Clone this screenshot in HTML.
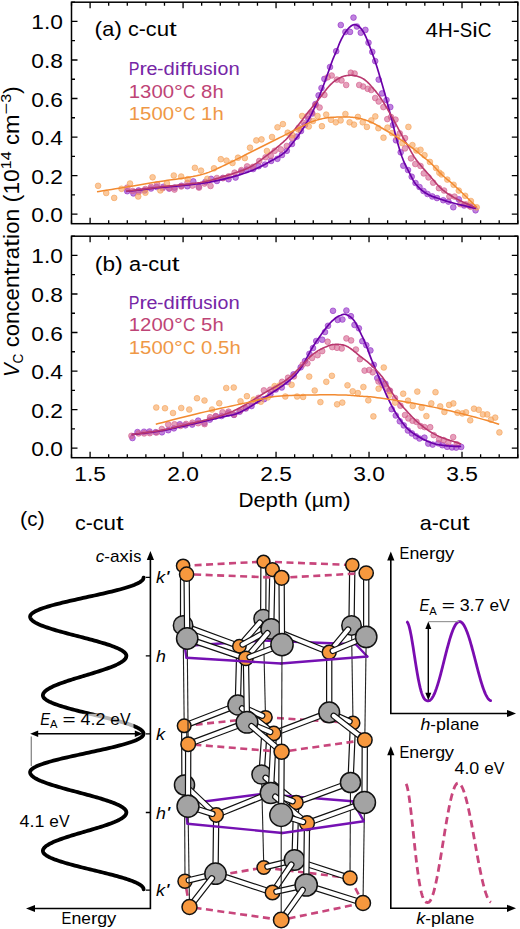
<!DOCTYPE html><html><head><meta charset="utf-8"><style>html,body{margin:0;padding:0;background:#fff;}svg{display:block;}text{font-family:"Liberation Sans",sans-serif;}</style></head><body><svg width="520" height="929" viewBox="0 0 520 929" font-family="Liberation Sans, sans-serif">
<rect width="520" height="929" fill="#fff"/>
<path d="M71.50,223.70V220.20M71.50,2.20V5.70M90.10,223.70V217.70M90.10,2.20V8.20M108.69,223.70V220.20M108.69,2.20V5.70M127.29,223.70V220.20M127.29,2.20V5.70M145.88,223.70V220.20M145.88,2.20V5.70M164.48,223.70V220.20M164.48,2.20V5.70M183.08,223.70V217.70M183.08,2.20V8.20M201.67,223.70V220.20M201.67,2.20V5.70M220.27,223.70V220.20M220.27,2.20V5.70M238.86,223.70V220.20M238.86,2.20V5.70M257.46,223.70V220.20M257.46,2.20V5.70M276.05,223.70V217.70M276.05,2.20V8.20M294.65,223.70V220.20M294.65,2.20V5.70M313.25,223.70V220.20M313.25,2.20V5.70M331.84,223.70V220.20M331.84,2.20V5.70M350.44,223.70V220.20M350.44,2.20V5.70M369.03,223.70V217.70M369.03,2.20V8.20M387.63,223.70V220.20M387.63,2.20V5.70M406.23,223.70V220.20M406.23,2.20V5.70M424.82,223.70V220.20M424.82,2.20V5.70M443.42,223.70V220.20M443.42,2.20V5.70M462.01,223.70V217.70M462.01,2.20V8.20M480.61,223.70V220.20M480.61,2.20V5.70M499.20,223.70V220.20M499.20,2.20V5.70M517.80,223.70V220.20M517.80,2.20V5.70M71.50,214.07H77.50M517.80,214.07H511.80M71.50,194.81H75.00M517.80,194.81H514.30M71.50,175.55H77.50M517.80,175.55H511.80M71.50,156.29H75.00M517.80,156.29H514.30M71.50,137.03H77.50M517.80,137.03H511.80M71.50,117.77H75.00M517.80,117.77H514.30M71.50,98.50H77.50M517.80,98.50H511.80M71.50,79.24H75.00M517.80,79.24H514.30M71.50,59.98H77.50M517.80,59.98H511.80M71.50,40.72H75.00M517.80,40.72H514.30M71.50,21.46H77.50M517.80,21.46H511.80M71.50,2.20H75.00M517.80,2.20H514.30" stroke="#000" stroke-width="1.3" fill="none"/>
<rect x="71.50" y="2.20" width="446.30" height="221.50" stroke="#000" stroke-width="1.5" fill="none"/>
<g font-size="21.09" fill="#000"><text x="31.36" y="222.07" textLength="12.66" lengthAdjust="spacingAndGlyphs">0</text><text x="44.02" y="222.07" textLength="6.33" lengthAdjust="spacingAndGlyphs">.</text><text x="50.35" y="222.07" textLength="12.66" lengthAdjust="spacingAndGlyphs">0</text></g>
<g font-size="21.09" fill="#000"><text x="31.36" y="183.55" textLength="12.66" lengthAdjust="spacingAndGlyphs">0</text><text x="44.02" y="183.55" textLength="6.33" lengthAdjust="spacingAndGlyphs">.</text><text x="50.35" y="183.55" textLength="12.66" lengthAdjust="spacingAndGlyphs">2</text></g>
<g font-size="21.09" fill="#000"><text x="31.36" y="145.03" textLength="12.66" lengthAdjust="spacingAndGlyphs">0</text><text x="44.02" y="145.03" textLength="6.33" lengthAdjust="spacingAndGlyphs">.</text><text x="50.35" y="145.03" textLength="12.66" lengthAdjust="spacingAndGlyphs">4</text></g>
<g font-size="21.09" fill="#000"><text x="31.36" y="106.50" textLength="12.66" lengthAdjust="spacingAndGlyphs">0</text><text x="44.02" y="106.50" textLength="6.33" lengthAdjust="spacingAndGlyphs">.</text><text x="50.35" y="106.50" textLength="12.66" lengthAdjust="spacingAndGlyphs">6</text></g>
<g font-size="21.09" fill="#000"><text x="31.36" y="67.98" textLength="12.66" lengthAdjust="spacingAndGlyphs">0</text><text x="44.02" y="67.98" textLength="6.33" lengthAdjust="spacingAndGlyphs">.</text><text x="50.35" y="67.98" textLength="12.66" lengthAdjust="spacingAndGlyphs">8</text></g>
<g font-size="21.09" fill="#000"><text x="31.36" y="29.46" textLength="12.66" lengthAdjust="spacingAndGlyphs">1</text><text x="44.02" y="29.46" textLength="6.33" lengthAdjust="spacingAndGlyphs">.</text><text x="50.35" y="29.46" textLength="12.66" lengthAdjust="spacingAndGlyphs">0</text></g>
<path d="M71.50,457.70V454.20M71.50,236.20V239.70M90.10,457.70V451.70M90.10,236.20V242.20M108.69,457.70V454.20M108.69,236.20V239.70M127.29,457.70V454.20M127.29,236.20V239.70M145.88,457.70V454.20M145.88,236.20V239.70M164.48,457.70V454.20M164.48,236.20V239.70M183.08,457.70V451.70M183.08,236.20V242.20M201.67,457.70V454.20M201.67,236.20V239.70M220.27,457.70V454.20M220.27,236.20V239.70M238.86,457.70V454.20M238.86,236.20V239.70M257.46,457.70V454.20M257.46,236.20V239.70M276.05,457.70V451.70M276.05,236.20V242.20M294.65,457.70V454.20M294.65,236.20V239.70M313.25,457.70V454.20M313.25,236.20V239.70M331.84,457.70V454.20M331.84,236.20V239.70M350.44,457.70V454.20M350.44,236.20V239.70M369.03,457.70V451.70M369.03,236.20V242.20M387.63,457.70V454.20M387.63,236.20V239.70M406.23,457.70V454.20M406.23,236.20V239.70M424.82,457.70V454.20M424.82,236.20V239.70M443.42,457.70V454.20M443.42,236.20V239.70M462.01,457.70V451.70M462.01,236.20V242.20M480.61,457.70V454.20M480.61,236.20V239.70M499.20,457.70V454.20M499.20,236.20V239.70M517.80,457.70V454.20M517.80,236.20V239.70M71.50,448.07H77.50M517.80,448.07H511.80M71.50,428.81H75.00M517.80,428.81H514.30M71.50,409.55H77.50M517.80,409.55H511.80M71.50,390.29H75.00M517.80,390.29H514.30M71.50,371.03H77.50M517.80,371.03H511.80M71.50,351.77H75.00M517.80,351.77H514.30M71.50,332.50H77.50M517.80,332.50H511.80M71.50,313.24H75.00M517.80,313.24H514.30M71.50,293.98H77.50M517.80,293.98H511.80M71.50,274.72H75.00M517.80,274.72H514.30M71.50,255.46H77.50M517.80,255.46H511.80M71.50,236.20H75.00M517.80,236.20H514.30" stroke="#000" stroke-width="1.3" fill="none"/>
<rect x="71.50" y="236.20" width="446.30" height="221.50" stroke="#000" stroke-width="1.5" fill="none"/>
<g font-size="21.09" fill="#000"><text x="31.36" y="456.07" textLength="12.66" lengthAdjust="spacingAndGlyphs">0</text><text x="44.02" y="456.07" textLength="6.33" lengthAdjust="spacingAndGlyphs">.</text><text x="50.35" y="456.07" textLength="12.66" lengthAdjust="spacingAndGlyphs">0</text></g>
<g font-size="21.09" fill="#000"><text x="31.36" y="417.55" textLength="12.66" lengthAdjust="spacingAndGlyphs">0</text><text x="44.02" y="417.55" textLength="6.33" lengthAdjust="spacingAndGlyphs">.</text><text x="50.35" y="417.55" textLength="12.66" lengthAdjust="spacingAndGlyphs">2</text></g>
<g font-size="21.09" fill="#000"><text x="31.36" y="379.03" textLength="12.66" lengthAdjust="spacingAndGlyphs">0</text><text x="44.02" y="379.03" textLength="6.33" lengthAdjust="spacingAndGlyphs">.</text><text x="50.35" y="379.03" textLength="12.66" lengthAdjust="spacingAndGlyphs">4</text></g>
<g font-size="21.09" fill="#000"><text x="31.36" y="340.50" textLength="12.66" lengthAdjust="spacingAndGlyphs">0</text><text x="44.02" y="340.50" textLength="6.33" lengthAdjust="spacingAndGlyphs">.</text><text x="50.35" y="340.50" textLength="12.66" lengthAdjust="spacingAndGlyphs">6</text></g>
<g font-size="21.09" fill="#000"><text x="31.36" y="301.98" textLength="12.66" lengthAdjust="spacingAndGlyphs">0</text><text x="44.02" y="301.98" textLength="6.33" lengthAdjust="spacingAndGlyphs">.</text><text x="50.35" y="301.98" textLength="12.66" lengthAdjust="spacingAndGlyphs">8</text></g>
<g font-size="21.09" fill="#000"><text x="31.36" y="263.46" textLength="12.66" lengthAdjust="spacingAndGlyphs">1</text><text x="44.02" y="263.46" textLength="6.33" lengthAdjust="spacingAndGlyphs">.</text><text x="50.35" y="263.46" textLength="12.66" lengthAdjust="spacingAndGlyphs">0</text></g>
<g fill="#9430c8" fill-opacity="0.6" stroke="#9430c8" stroke-opacity="0.7" stroke-width="0.9"><circle cx="127.22" cy="191.21" r="2.85"/><circle cx="133.42" cy="193.39" r="2.85"/><circle cx="138.58" cy="190.47" r="2.85"/><circle cx="144.67" cy="190.47" r="2.85"/><circle cx="151.04" cy="188.49" r="2.85"/><circle cx="156.66" cy="186.98" r="2.85"/><circle cx="163.41" cy="186.76" r="2.85"/><circle cx="169.13" cy="188.55" r="2.85"/><circle cx="174.58" cy="187.60" r="2.85"/><circle cx="181.45" cy="185.75" r="2.85"/><circle cx="187.39" cy="186.24" r="2.85"/><circle cx="193.29" cy="181.40" r="2.85"/><circle cx="198.71" cy="186.76" r="2.85"/><circle cx="205.42" cy="181.88" r="2.85"/><circle cx="211.08" cy="178.87" r="2.85"/><circle cx="216.92" cy="180.93" r="2.85"/><circle cx="222.78" cy="178.03" r="2.85"/><circle cx="228.54" cy="179.23" r="2.85"/><circle cx="235.58" cy="177.54" r="2.85"/><circle cx="241.23" cy="171.48" r="2.85"/><circle cx="246.56" cy="169.58" r="2.85"/><circle cx="253.21" cy="169.07" r="2.85"/><circle cx="258.64" cy="166.25" r="2.85"/><circle cx="265.03" cy="164.58" r="2.85"/><circle cx="271.13" cy="160.92" r="2.85"/></g>
<g fill="#9430c8" fill-opacity="0.6" stroke="#9430c8" stroke-opacity="0.7" stroke-width="0.9"><circle cx="432.28" cy="196.47" r="2.85"/><circle cx="436.99" cy="198.07" r="2.85"/><circle cx="443.26" cy="200.24" r="2.85"/><circle cx="448.42" cy="201.60" r="2.85"/><circle cx="453.29" cy="207.27" r="2.85"/><circle cx="458.81" cy="199.32" r="2.85"/><circle cx="464.12" cy="205.45" r="2.85"/><circle cx="469.47" cy="205.78" r="2.85"/><circle cx="475.56" cy="210.31" r="2.85"/></g>
<g fill="#9430c8" fill-opacity="0.6" stroke="#9430c8" stroke-opacity="0.7" stroke-width="0.9"><circle cx="277.40" cy="158.80" r="2.85"/><circle cx="282.00" cy="155.00" r="2.85"/><circle cx="286.80" cy="150.80" r="2.85"/><circle cx="292.00" cy="144.00" r="2.85"/><circle cx="296.80" cy="136.60" r="2.85"/><circle cx="301.00" cy="131.00" r="2.85"/><circle cx="305.00" cy="125.00" r="2.85"/><circle cx="308.50" cy="119.00" r="2.85"/><circle cx="312.30" cy="113.50" r="2.85"/><circle cx="315.50" cy="104.00" r="2.85"/><circle cx="318.60" cy="95.40" r="2.85"/><circle cx="321.50" cy="88.00" r="2.85"/><circle cx="324.40" cy="78.90" r="2.85"/><circle cx="330.00" cy="67.00" r="2.85"/><circle cx="336.20" cy="51.20" r="2.85"/><circle cx="340.80" cy="25.00" r="2.85"/><circle cx="345.40" cy="31.90" r="2.85"/><circle cx="350.00" cy="31.90" r="2.85"/><circle cx="353.50" cy="17.60" r="2.85"/><circle cx="356.90" cy="26.50" r="2.85"/><circle cx="360.80" cy="32.70" r="2.85"/><circle cx="365.40" cy="29.90" r="2.85"/><circle cx="368.50" cy="42.70" r="2.85"/><circle cx="372.30" cy="51.90" r="2.85"/><circle cx="375.20" cy="61.10" r="2.85"/><circle cx="378.70" cy="79.60" r="2.85"/><circle cx="382.10" cy="93.40" r="2.85"/><circle cx="386.50" cy="100.00" r="2.85"/><circle cx="390.30" cy="107.10" r="2.85"/><circle cx="393.00" cy="125.00" r="2.85"/><circle cx="396.00" cy="140.30" r="2.85"/><circle cx="400.70" cy="152.30" r="2.85"/><circle cx="403.30" cy="165.70" r="2.85"/><circle cx="408.00" cy="170.00" r="2.85"/><circle cx="411.70" cy="176.70" r="2.85"/><circle cx="415.50" cy="183.00" r="2.85"/><circle cx="419.50" cy="187.00" r="2.85"/><circle cx="423.50" cy="191.00" r="2.85"/><circle cx="427.50" cy="194.00" r="2.85"/></g>
<g fill="#d4608e" fill-opacity="0.6" stroke="#d4608e" stroke-opacity="0.7" stroke-width="0.9"><circle cx="127.20" cy="187.61" r="2.85"/><circle cx="132.57" cy="190.88" r="2.85"/><circle cx="138.73" cy="191.89" r="2.85"/><circle cx="145.37" cy="188.98" r="2.85"/><circle cx="151.07" cy="186.90" r="2.85"/><circle cx="157.19" cy="184.33" r="2.85"/><circle cx="162.59" cy="188.24" r="2.85"/><circle cx="169.49" cy="188.08" r="2.85"/><circle cx="174.49" cy="189.58" r="2.85"/><circle cx="181.22" cy="186.45" r="2.85"/><circle cx="187.41" cy="182.95" r="2.85"/><circle cx="192.42" cy="185.60" r="2.85"/><circle cx="199.01" cy="187.60" r="2.85"/><circle cx="204.51" cy="183.55" r="2.85"/><circle cx="210.54" cy="185.98" r="2.85"/><circle cx="216.91" cy="178.02" r="2.85"/><circle cx="223.15" cy="178.00" r="2.85"/><circle cx="228.60" cy="176.33" r="2.85"/><circle cx="234.61" cy="172.64" r="2.85"/><circle cx="241.38" cy="170.11" r="2.85"/><circle cx="247.12" cy="166.39" r="2.85"/><circle cx="252.97" cy="166.79" r="2.85"/><circle cx="259.27" cy="160.94" r="2.85"/><circle cx="265.56" cy="157.26" r="2.85"/><circle cx="270.83" cy="155.74" r="2.85"/></g>
<g fill="#d4608e" fill-opacity="0.6" stroke="#d4608e" stroke-opacity="0.7" stroke-width="0.9"><circle cx="433.18" cy="182.65" r="2.85"/><circle cx="438.93" cy="188.16" r="2.85"/><circle cx="444.08" cy="190.50" r="2.85"/><circle cx="449.39" cy="196.47" r="2.85"/><circle cx="454.48" cy="196.58" r="2.85"/><circle cx="460.33" cy="204.14" r="2.85"/><circle cx="465.88" cy="204.38" r="2.85"/><circle cx="470.63" cy="206.72" r="2.85"/></g>
<g fill="#d4608e" fill-opacity="0.6" stroke="#d4608e" stroke-opacity="0.7" stroke-width="0.9"><circle cx="274.70" cy="150.80" r="2.85"/><circle cx="280.80" cy="149.40" r="2.85"/><circle cx="286.80" cy="146.00" r="2.85"/><circle cx="292.00" cy="138.00" r="2.85"/><circle cx="298.70" cy="127.80" r="2.85"/><circle cx="303.60" cy="123.00" r="2.85"/><circle cx="307.50" cy="116.00" r="2.85"/><circle cx="311.80" cy="112.30" r="2.85"/><circle cx="315.50" cy="105.00" r="2.85"/><circle cx="319.60" cy="107.50" r="2.85"/><circle cx="324.40" cy="94.90" r="2.85"/><circle cx="327.70" cy="77.30" r="2.85"/><circle cx="331.70" cy="75.50" r="2.85"/><circle cx="336.90" cy="79.60" r="2.85"/><circle cx="341.50" cy="80.40" r="2.85"/><circle cx="346.20" cy="85.00" r="2.85"/><circle cx="350.80" cy="72.70" r="2.85"/><circle cx="354.60" cy="73.50" r="2.85"/><circle cx="359.20" cy="85.00" r="2.85"/><circle cx="363.10" cy="86.50" r="2.85"/><circle cx="367.70" cy="88.80" r="2.85"/><circle cx="371.20" cy="90.00" r="2.85"/><circle cx="375.20" cy="98.00" r="2.85"/><circle cx="378.70" cy="101.50" r="2.85"/><circle cx="383.40" cy="107.10" r="2.85"/><circle cx="387.30" cy="119.10" r="2.85"/><circle cx="391.00" cy="117.00" r="2.85"/><circle cx="395.50" cy="119.60" r="2.85"/><circle cx="399.80" cy="133.40" r="2.85"/><circle cx="405.00" cy="138.10" r="2.85"/><circle cx="405.00" cy="148.40" r="2.85"/><circle cx="411.00" cy="158.40" r="2.85"/><circle cx="415.30" cy="164.00" r="2.85"/><circle cx="420.50" cy="166.00" r="2.85"/><circle cx="423.80" cy="173.40" r="2.85"/><circle cx="428.50" cy="177.40" r="2.85"/></g>
<g fill="#f6a35a" fill-opacity="0.6" stroke="#f6a35a" stroke-opacity="0.7" stroke-width="0.9"><circle cx="98.10" cy="185.80" r="2.85"/><circle cx="106.20" cy="193.00" r="2.85"/><circle cx="114.20" cy="197.90" r="2.85"/><circle cx="121.50" cy="188.80" r="2.85"/><circle cx="130.00" cy="183.50" r="2.85"/><circle cx="138.20" cy="196.50" r="2.85"/><circle cx="145.40" cy="192.70" r="2.85"/><circle cx="152.60" cy="177.30" r="2.85"/><circle cx="160.30" cy="190.40" r="2.85"/><circle cx="166.90" cy="183.20" r="2.85"/><circle cx="173.80" cy="175.50" r="2.85"/><circle cx="181.20" cy="176.50" r="2.85"/><circle cx="187.70" cy="179.20" r="2.85"/><circle cx="194.90" cy="167.80" r="2.85"/><circle cx="201.00" cy="170.60" r="2.85"/><circle cx="207.30" cy="178.80" r="2.85"/><circle cx="214.00" cy="168.30" r="2.85"/><circle cx="220.80" cy="159.20" r="2.85"/><circle cx="226.50" cy="160.60" r="2.85"/><circle cx="232.50" cy="163.00" r="2.85"/><circle cx="238.00" cy="157.70" r="2.85"/><circle cx="244.80" cy="158.10" r="2.85"/><circle cx="250.00" cy="147.70" r="2.85"/><circle cx="256.30" cy="140.40" r="2.85"/><circle cx="261.50" cy="139.40" r="2.85"/><circle cx="266.90" cy="151.00" r="2.85"/><circle cx="272.00" cy="137.00" r="2.85"/><circle cx="277.50" cy="127.30" r="2.85"/><circle cx="282.90" cy="124.10" r="2.85"/><circle cx="287.70" cy="132.70" r="2.85"/><circle cx="292.50" cy="135.20" r="2.85"/><circle cx="298.30" cy="129.40" r="2.85"/><circle cx="302.10" cy="116.00" r="2.85"/><circle cx="308.80" cy="126.50" r="2.85"/><circle cx="313.00" cy="121.00" r="2.85"/><circle cx="317.50" cy="116.00" r="2.85"/><circle cx="321.90" cy="126.20" r="2.85"/><circle cx="326.20" cy="114.60" r="2.85"/><circle cx="331.00" cy="119.80" r="2.85"/><circle cx="335.80" cy="122.30" r="2.85"/><circle cx="340.60" cy="120.40" r="2.85"/><circle cx="345.40" cy="114.00" r="2.85"/><circle cx="349.60" cy="122.30" r="2.85"/><circle cx="354.00" cy="124.60" r="2.85"/><circle cx="357.90" cy="116.90" r="2.85"/><circle cx="362.70" cy="122.30" r="2.85"/><circle cx="366.90" cy="126.90" r="2.85"/><circle cx="371.30" cy="120.40" r="2.85"/><circle cx="375.30" cy="116.40" r="2.85"/><circle cx="378.40" cy="128.20" r="2.85"/><circle cx="383.50" cy="137.70" r="2.85"/><circle cx="387.50" cy="127.60" r="2.85"/><circle cx="392.00" cy="133.00" r="2.85"/><circle cx="397.00" cy="137.00" r="2.85"/><circle cx="402.30" cy="143.10" r="2.85"/><circle cx="408.40" cy="126.90" r="2.85"/><circle cx="412.40" cy="145.10" r="2.85"/><circle cx="416.40" cy="150.50" r="2.85"/><circle cx="420.50" cy="149.80" r="2.85"/><circle cx="424.50" cy="155.20" r="2.85"/><circle cx="429.90" cy="161.90" r="2.85"/><circle cx="436.00" cy="168.00" r="2.85"/><circle cx="439.30" cy="172.70" r="2.85"/><circle cx="441.50" cy="174.40" r="2.85"/><circle cx="447.30" cy="179.60" r="2.85"/><circle cx="453.60" cy="184.80" r="2.85"/><circle cx="458.80" cy="190.60" r="2.85"/><circle cx="465.20" cy="195.80" r="2.85"/><circle cx="470.90" cy="201.00" r="2.85"/><circle cx="476.70" cy="207.30" r="2.85"/></g>
<path d="M125.80,191.50 L127.81,191.27 L130.36,190.97 L133.36,190.62 L136.74,190.23 L140.40,189.80 L144.26,189.35 L148.24,188.90 L152.24,188.45 L156.19,188.01 L160.00,187.60 L163.83,187.21 L167.87,186.82 L172.05,186.43 L176.30,186.05 L180.57,185.66 L184.80,185.26 L188.92,184.86 L192.87,184.45 L196.58,184.03 L200.00,183.60 L203.11,183.16 L205.96,182.73 L208.60,182.30 L211.08,181.87 L213.44,181.42 L215.72,180.95 L217.97,180.46 L220.24,179.95 L222.57,179.39 L225.00,178.80 L227.52,178.17 L230.08,177.51 L232.66,176.82 L235.24,176.10 L237.81,175.36 L240.36,174.60 L242.87,173.80 L245.32,172.99 L247.70,172.16 L250.00,171.30 L252.23,170.41 L254.42,169.46 L256.57,168.48 L258.67,167.46 L260.72,166.44 L262.71,165.41 L264.64,164.39 L266.50,163.39 L268.29,162.42 L270.00,161.50 L271.64,160.62 L273.23,159.76 L274.75,158.92 L276.20,158.09 L277.59,157.29 L278.92,156.49 L280.17,155.71 L281.35,154.94 L282.46,154.17 L283.50,153.40 L284.42,152.67 L285.20,151.99 L285.86,151.34 L286.45,150.71 L286.99,150.08 L287.51,149.43 L288.04,148.73 L288.61,147.97 L289.25,147.13 L290.00,146.20 L290.84,145.17 L291.74,144.07 L292.67,142.91 L293.65,141.69 L294.65,140.42 L295.67,139.11 L296.69,137.76 L297.71,136.39 L298.72,135.00 L299.70,133.60 L300.69,132.14 L301.72,130.59 L302.76,128.98 L303.82,127.33 L304.86,125.67 L305.87,124.02 L306.85,122.42 L307.77,120.88 L308.63,119.43 L309.40,118.10 L310.08,116.90 L310.67,115.82 L311.20,114.82 L311.67,113.89 L312.10,113.01 L312.51,112.14 L312.91,111.27 L313.31,110.37 L313.74,109.42 L314.20,108.40 L314.69,107.32 L315.18,106.22 L315.67,105.09 L316.16,103.94 L316.65,102.78 L317.14,101.60 L317.63,100.41 L318.12,99.21 L318.61,98.01 L319.10,96.80 L319.58,95.58 L320.06,94.36 L320.54,93.12 L321.02,91.88 L321.50,90.62 L321.98,89.35 L322.46,88.08 L322.94,86.79 L323.42,85.50 L323.90,84.20 L324.39,82.87 L324.89,81.51 L325.40,80.13 L325.91,78.73 L326.41,77.33 L326.91,75.94 L327.41,74.57 L327.89,73.24 L328.35,71.94 L328.80,70.70 L329.22,69.51 L329.63,68.35 L330.02,67.23 L330.39,66.14 L330.76,65.07 L331.13,64.02 L331.49,63.00 L331.85,61.99 L332.22,60.99 L332.60,60.00 L332.98,59.04 L333.36,58.12 L333.74,57.24 L334.12,56.37 L334.51,55.52 L334.89,54.66 L335.28,53.79 L335.68,52.90 L336.09,51.97 L336.50,51.00 L336.92,49.98 L337.34,48.91 L337.76,47.82 L338.18,46.70 L338.62,45.56 L339.06,44.42 L339.52,43.29 L339.99,42.17 L340.49,41.07 L341.00,40.00 L341.54,38.94 L342.09,37.86 L342.66,36.78 L343.25,35.70 L343.86,34.64 L344.47,33.61 L345.09,32.62 L345.72,31.68 L346.36,30.81 L347.00,30.00 L347.65,29.24 L348.32,28.51 L349.00,27.81 L349.69,27.15 L350.39,26.55 L351.08,26.01 L351.78,25.55 L352.47,25.17 L353.14,24.88 L353.80,24.70 L354.45,24.63 L355.10,24.67 L355.74,24.80 L356.38,25.01 L357.01,25.30 L357.64,25.65 L358.25,26.06 L358.85,26.51 L359.43,26.99 L360.00,27.50 L360.55,28.04 L361.08,28.62 L361.59,29.25 L362.09,29.93 L362.57,30.66 L363.06,31.43 L363.54,32.25 L364.02,33.12 L364.51,34.03 L365.00,35.00 L365.50,36.02 L365.99,37.09 L366.47,38.22 L366.96,39.39 L367.45,40.61 L367.94,41.88 L368.44,43.18 L368.95,44.52 L369.47,45.89 L370.00,47.30 L370.55,48.75 L371.12,50.26 L371.70,51.82 L372.29,53.42 L372.89,55.05 L373.48,56.71 L374.08,58.38 L374.67,60.06 L375.24,61.73 L375.80,63.40 L376.35,65.08 L376.89,66.80 L377.44,68.54 L377.97,70.29 L378.50,72.05 L379.02,73.80 L379.53,75.53 L380.03,77.23 L380.52,78.89 L381.00,80.50 L381.46,82.06 L381.92,83.59 L382.36,85.09 L382.79,86.56 L383.21,88.01 L383.63,89.44 L384.03,90.85 L384.43,92.24 L384.82,93.63 L385.20,95.00 L385.57,96.35 L385.93,97.68 L386.28,98.98 L386.61,100.27 L386.94,101.54 L387.27,102.81 L387.60,104.07 L387.93,105.34 L388.26,106.61 L388.60,107.90 L388.95,109.19 L389.30,110.48 L389.65,111.77 L390.00,113.05 L390.35,114.34 L390.70,115.64 L391.05,116.94 L391.40,118.25 L391.75,119.57 L392.10,120.90 L392.44,122.24 L392.77,123.58 L393.10,124.93 L393.42,126.28 L393.75,127.64 L394.08,129.02 L394.42,130.41 L394.76,131.82 L395.12,133.25 L395.50,134.70 L395.89,136.20 L396.30,137.75 L396.72,139.34 L397.16,140.95 L397.59,142.56 L398.04,144.17 L398.48,145.75 L398.93,147.30 L399.37,148.78 L399.80,150.20 L400.23,151.55 L400.65,152.85 L401.06,154.11 L401.48,155.33 L401.89,156.52 L402.32,157.68 L402.74,158.83 L403.18,159.96 L403.63,161.08 L404.10,162.20 L404.58,163.30 L405.06,164.36 L405.55,165.40 L406.05,166.42 L406.56,167.42 L407.08,168.43 L407.62,169.44 L408.16,170.47 L408.72,171.52 L409.30,172.60 L409.88,173.72 L410.45,174.88 L411.02,176.06 L411.60,177.26 L412.21,178.46 L412.84,179.66 L413.50,180.84 L414.21,182.00 L414.97,183.12 L415.80,184.20 L416.69,185.25 L417.63,186.28 L418.61,187.31 L419.64,188.31 L420.71,189.29 L421.82,190.23 L422.95,191.14 L424.11,192.01 L425.30,192.83 L426.50,193.60 L427.73,194.31 L429.00,194.95 L430.30,195.54 L431.63,196.09 L432.98,196.61 L434.36,197.10 L435.75,197.57 L437.16,198.04 L438.58,198.51 L440.00,199.00 L441.41,199.48 L442.80,199.95 L444.19,200.40 L445.59,200.84 L447.02,201.28 L448.48,201.71 L450.00,202.14 L451.58,202.58 L453.24,203.03 L455.00,203.50 L456.96,204.00 L459.18,204.55 L461.57,205.12 L464.05,205.70 L466.54,206.28 L468.95,206.84 L471.20,207.35 L473.22,207.81 L474.91,208.20 L476.20,208.50" stroke="#6a00a8" stroke-width="1.7" fill="none" stroke-linejoin="round"/>
<path d="M126.00,191.20 L128.00,190.95 L130.53,190.63 L133.51,190.26 L136.86,189.84 L140.50,189.38 L144.34,188.90 L148.29,188.41 L152.27,187.93 L156.20,187.45 L160.00,187.00 L163.82,186.57 L167.86,186.15 L172.03,185.74 L176.29,185.32 L180.56,184.89 L184.79,184.46 L188.91,184.01 L192.86,183.53 L196.58,183.03 L200.00,182.50 L203.11,181.94 L205.96,181.37 L208.60,180.78 L211.08,180.16 L213.44,179.53 L215.72,178.88 L217.97,178.20 L220.24,177.49 L222.57,176.76 L225.00,176.00 L227.52,175.22 L230.08,174.44 L232.66,173.64 L235.24,172.82 L237.81,171.97 L240.36,171.08 L242.87,170.15 L245.32,169.16 L247.70,168.11 L250.00,167.00 L252.23,165.79 L254.42,164.48 L256.57,163.08 L258.67,161.63 L260.72,160.14 L262.71,158.64 L264.64,157.15 L266.50,155.70 L268.29,154.31 L270.00,153.00 L271.64,151.75 L273.23,150.51 L274.75,149.30 L276.20,148.11 L277.59,146.95 L278.92,145.83 L280.17,144.75 L281.35,143.71 L282.46,142.73 L283.50,141.80 L284.42,140.96 L285.20,140.24 L285.86,139.59 L286.45,139.00 L286.99,138.43 L287.51,137.86 L288.04,137.26 L288.61,136.60 L289.25,135.86 L290.00,135.00 L290.84,134.03 L291.74,132.99 L292.67,131.88 L293.65,130.72 L294.65,129.52 L295.67,128.29 L296.69,127.04 L297.71,125.78 L298.72,124.53 L299.70,123.30 L300.67,122.07 L301.64,120.81 L302.61,119.54 L303.58,118.25 L304.55,116.96 L305.52,115.66 L306.49,114.38 L307.46,113.10 L308.43,111.84 L309.40,110.60 L310.37,109.39 L311.34,108.19 L312.31,107.01 L313.28,105.84 L314.25,104.67 L315.22,103.51 L316.19,102.35 L317.16,101.18 L318.13,100.00 L319.10,98.80 L320.08,97.56 L321.09,96.27 L322.10,94.95 L323.12,93.61 L324.14,92.29 L325.14,90.99 L326.11,89.74 L327.05,88.56 L327.95,87.48 L328.80,86.50 L329.59,85.64 L330.32,84.86 L331.01,84.17 L331.66,83.55 L332.29,82.98 L332.91,82.45 L333.53,81.95 L334.16,81.47 L334.81,80.99 L335.50,80.50 L336.22,80.01 L336.94,79.53 L337.68,79.06 L338.43,78.62 L339.18,78.20 L339.94,77.80 L340.70,77.43 L341.47,77.09 L342.23,76.78 L343.00,76.50 L343.77,76.26 L344.55,76.04 L345.34,75.86 L346.13,75.70 L346.92,75.57 L347.71,75.47 L348.49,75.40 L349.27,75.34 L350.04,75.31 L350.80,75.30 L351.55,75.31 L352.28,75.35 L353.01,75.41 L353.73,75.50 L354.45,75.61 L355.16,75.74 L355.87,75.90 L356.58,76.07 L357.29,76.28 L358.00,76.50 L358.71,76.74 L359.41,77.00 L360.11,77.27 L360.81,77.57 L361.51,77.89 L362.21,78.24 L362.91,78.62 L363.60,79.04 L364.30,79.50 L365.00,80.00 L365.70,80.54 L366.38,81.13 L367.07,81.75 L367.75,82.40 L368.44,83.09 L369.13,83.82 L369.83,84.57 L370.54,85.35 L371.26,86.16 L372.00,87.00 L372.76,87.86 L373.54,88.76 L374.33,89.69 L375.13,90.64 L375.94,91.62 L376.75,92.64 L377.57,93.69 L378.38,94.76 L379.20,95.87 L380.00,97.00 L380.80,98.18 L381.61,99.40 L382.42,100.67 L383.22,101.96 L384.03,103.29 L384.84,104.63 L385.64,105.98 L386.43,107.33 L387.22,108.67 L388.00,110.00 L388.77,111.33 L389.54,112.66 L390.31,114.00 L391.06,115.35 L391.82,116.70 L392.57,118.05 L393.31,119.40 L394.05,120.74 L394.78,122.07 L395.50,123.40 L396.22,124.73 L396.93,126.07 L397.64,127.41 L398.35,128.76 L399.04,130.09 L399.73,131.41 L400.42,132.71 L401.09,133.98 L401.75,135.21 L402.40,136.40 L403.03,137.53 L403.63,138.59 L404.21,139.60 L404.78,140.58 L405.34,141.55 L405.91,142.52 L406.50,143.50 L407.10,144.51 L407.73,145.57 L408.40,146.70 L409.08,147.88 L409.75,149.07 L410.42,150.29 L411.10,151.54 L411.81,152.82 L412.56,154.13 L413.36,155.47 L414.23,156.84 L415.17,158.25 L416.20,159.70 L417.35,161.22 L418.61,162.82 L419.97,164.49 L421.40,166.19 L422.87,167.92 L424.36,169.64 L425.84,171.34 L427.29,173.00 L428.69,174.59 L430.00,176.10 L431.24,177.54 L432.45,178.95 L433.62,180.33 L434.77,181.67 L435.89,182.97 L437.01,184.23 L438.12,185.44 L439.24,186.61 L440.36,187.73 L441.50,188.80 L442.65,189.81 L443.80,190.75 L444.95,191.64 L446.10,192.48 L447.24,193.28 L448.39,194.05 L449.54,194.78 L450.69,195.50 L451.85,196.20 L453.00,196.90 L454.16,197.58 L455.32,198.22 L456.48,198.83 L457.64,199.42 L458.81,199.99 L459.97,200.54 L461.13,201.08 L462.29,201.62 L463.45,202.16 L464.60,202.70 L465.80,203.26 L467.08,203.85 L468.39,204.44 L469.72,205.04 L471.03,205.61 L472.27,206.16 L473.42,206.67 L474.45,207.12 L475.32,207.50 L476.00,207.80" stroke="#b8376e" stroke-width="1.6" fill="none" stroke-linejoin="round"/>
<path d="M97.00,191.80 L98.98,191.48 L101.54,191.07 L104.57,190.59 L107.97,190.05 L111.62,189.46 L115.43,188.85 L119.28,188.23 L123.06,187.63 L126.67,187.04 L130.00,186.50 L133.08,185.99 L136.03,185.50 L138.91,185.03 L141.74,184.55 L144.56,184.07 L147.42,183.59 L150.36,183.10 L153.41,182.59 L156.61,182.06 L160.00,181.50 L163.66,180.93 L167.60,180.35 L171.74,179.77 L176.00,179.18 L180.31,178.56 L184.60,177.92 L188.79,177.25 L192.80,176.55 L196.56,175.80 L200.00,175.00 L203.11,174.15 L205.96,173.26 L208.60,172.34 L211.08,171.37 L213.44,170.38 L215.72,169.35 L217.97,168.29 L220.24,167.22 L222.57,166.12 L225.00,165.00 L227.50,163.85 L230.00,162.66 L232.50,161.43 L235.00,160.18 L237.50,158.91 L240.00,157.62 L242.50,156.33 L245.00,155.04 L247.50,153.76 L250.00,152.50 L252.50,151.25 L255.00,150.00 L257.50,148.75 L260.00,147.50 L262.50,146.25 L265.00,145.00 L267.50,143.75 L270.00,142.50 L272.50,141.25 L275.00,140.00 L277.56,138.72 L280.20,137.40 L282.89,136.05 L285.60,134.69 L288.28,133.34 L290.90,132.03 L293.42,130.77 L295.80,129.58 L298.01,128.49 L300.00,127.50 L301.75,126.63 L303.26,125.85 L304.59,125.15 L305.78,124.52 L306.88,123.95 L307.92,123.42 L308.96,122.93 L310.04,122.45 L311.21,121.98 L312.50,121.50 L313.88,121.02 L315.28,120.57 L316.69,120.13 L318.13,119.72 L319.60,119.32 L321.10,118.96 L322.63,118.62 L324.21,118.32 L325.83,118.04 L327.50,117.80 L329.26,117.59 L331.12,117.42 L333.05,117.27 L335.03,117.16 L337.04,117.07 L339.03,117.02 L341.00,116.98 L342.90,116.97 L344.71,116.97 L346.40,117.00 L347.98,117.05 L349.49,117.11 L350.93,117.20 L352.31,117.31 L353.64,117.45 L354.94,117.61 L356.22,117.79 L357.48,118.00 L358.74,118.24 L360.00,118.50 L361.25,118.79 L362.48,119.10 L363.68,119.44 L364.85,119.80 L366.02,120.19 L367.17,120.60 L368.32,121.04 L369.48,121.50 L370.63,121.99 L371.80,122.50 L372.97,123.04 L374.12,123.61 L375.26,124.22 L376.41,124.84 L377.55,125.49 L378.70,126.16 L379.87,126.85 L381.05,127.56 L382.26,128.27 L383.50,129.00 L384.77,129.74 L386.07,130.50 L387.39,131.27 L388.73,132.06 L390.09,132.87 L391.45,133.69 L392.82,134.52 L394.19,135.37 L395.55,136.23 L396.90,137.10 L398.25,137.98 L399.60,138.87 L400.95,139.78 L402.30,140.70 L403.65,141.63 L405.00,142.58 L406.35,143.54 L407.70,144.51 L409.05,145.50 L410.40,146.50 L411.77,147.54 L413.18,148.64 L414.62,149.78 L416.06,150.94 L417.48,152.10 L418.88,153.24 L420.22,154.35 L421.51,155.41 L422.70,156.40 L423.80,157.30 L424.77,158.09 L425.62,158.76 L426.37,159.35 L427.05,159.89 L427.69,160.39 L428.32,160.90 L428.96,161.44 L429.63,162.03 L430.37,162.71 L431.20,163.50 L432.10,164.40 L433.05,165.39 L434.02,166.44 L435.02,167.55 L436.06,168.69 L437.11,169.85 L438.19,171.02 L439.28,172.18 L440.38,173.31 L441.50,174.40 L442.64,175.46 L443.81,176.50 L445.01,177.54 L446.23,178.57 L447.47,179.59 L448.71,180.62 L449.95,181.65 L451.18,182.69 L452.40,183.74 L453.60,184.80 L454.78,185.87 L455.95,186.95 L457.11,188.03 L458.27,189.12 L459.42,190.22 L460.57,191.32 L461.72,192.43 L462.88,193.55 L464.03,194.67 L465.20,195.80 L466.43,196.99 L467.74,198.28 L469.10,199.63 L470.47,200.99 L471.82,202.34 L473.12,203.63 L474.32,204.83 L475.39,205.90 L476.30,206.80 L477.00,207.50" stroke="#f28a30" stroke-width="1.5" fill="none" stroke-linejoin="round"/>
<g fill="#9430c8" fill-opacity="0.6" stroke="#9430c8" stroke-opacity="0.7" stroke-width="0.9"><circle cx="132.47" cy="438.02" r="2.85"/><circle cx="137.50" cy="432.07" r="2.85"/><circle cx="144.04" cy="431.73" r="2.85"/><circle cx="149.56" cy="431.48" r="2.85"/><circle cx="155.67" cy="432.22" r="2.85"/><circle cx="161.95" cy="432.29" r="2.85"/><circle cx="168.25" cy="430.21" r="2.85"/><circle cx="173.91" cy="428.34" r="2.85"/><circle cx="179.83" cy="424.27" r="2.85"/><circle cx="185.47" cy="425.30" r="2.85"/><circle cx="192.19" cy="424.57" r="2.85"/><circle cx="198.15" cy="420.64" r="2.85"/><circle cx="204.31" cy="422.81" r="2.85"/><circle cx="209.84" cy="419.62" r="2.85"/><circle cx="215.78" cy="416.35" r="2.85"/><circle cx="221.50" cy="416.01" r="2.85"/><circle cx="228.11" cy="413.28" r="2.85"/><circle cx="233.94" cy="414.88" r="2.85"/><circle cx="239.61" cy="411.67" r="2.85"/><circle cx="245.79" cy="408.45" r="2.85"/><circle cx="251.54" cy="406.06" r="2.85"/><circle cx="257.52" cy="400.82" r="2.85"/><circle cx="264.09" cy="399.18" r="2.85"/><circle cx="270.38" cy="394.43" r="2.85"/><circle cx="275.75" cy="389.49" r="2.85"/><circle cx="281.77" cy="387.48" r="2.85"/><circle cx="287.71" cy="381.92" r="2.85"/><circle cx="293.53" cy="374.36" r="2.85"/></g>
<g fill="#9430c8" fill-opacity="0.6" stroke="#9430c8" stroke-opacity="0.7" stroke-width="0.9"><circle cx="424.41" cy="437.64" r="2.85"/><circle cx="428.26" cy="443.62" r="2.85"/><circle cx="432.65" cy="444.58" r="2.85"/><circle cx="438.34" cy="443.33" r="2.85"/><circle cx="442.31" cy="445.24" r="2.85"/><circle cx="447.11" cy="446.82" r="2.85"/><circle cx="452.00" cy="447.44" r="2.85"/><circle cx="456.21" cy="447.62" r="2.85"/><circle cx="461.19" cy="446.95" r="2.85"/></g>
<g fill="#9430c8" fill-opacity="0.6" stroke="#9430c8" stroke-opacity="0.7" stroke-width="0.9"><circle cx="300.70" cy="367.30" r="2.85"/><circle cx="305.00" cy="361.00" r="2.85"/><circle cx="309.40" cy="353.80" r="2.85"/><circle cx="313.00" cy="348.00" r="2.85"/><circle cx="316.20" cy="341.00" r="2.85"/><circle cx="322.20" cy="339.70" r="2.85"/><circle cx="325.00" cy="332.00" r="2.85"/><circle cx="328.00" cy="325.80" r="2.85"/><circle cx="333.00" cy="310.80" r="2.85"/><circle cx="337.70" cy="319.90" r="2.85"/><circle cx="342.40" cy="319.50" r="2.85"/><circle cx="346.40" cy="310.50" r="2.85"/><circle cx="350.90" cy="316.20" r="2.85"/><circle cx="354.50" cy="324.90" r="2.85"/><circle cx="358.90" cy="328.30" r="2.85"/><circle cx="362.30" cy="341.20" r="2.85"/><circle cx="366.30" cy="345.20" r="2.85"/><circle cx="370.40" cy="350.40" r="2.85"/><circle cx="373.80" cy="364.80" r="2.85"/><circle cx="377.30" cy="378.10" r="2.85"/><circle cx="381.00" cy="381.00" r="2.85"/><circle cx="385.40" cy="383.80" r="2.85"/><circle cx="389.40" cy="390.70" r="2.85"/><circle cx="391.70" cy="409.20" r="2.85"/><circle cx="395.80" cy="415.50" r="2.85"/><circle cx="399.80" cy="421.30" r="2.85"/><circle cx="403.80" cy="425.40" r="2.85"/><circle cx="407.90" cy="430.50" r="2.85"/><circle cx="411.90" cy="433.40" r="2.85"/><circle cx="415.90" cy="436.30" r="2.85"/><circle cx="419.50" cy="438.50" r="2.85"/></g>
<g fill="#d4608e" fill-opacity="0.6" stroke="#d4608e" stroke-opacity="0.7" stroke-width="0.9"><circle cx="131.43" cy="435.82" r="2.85"/><circle cx="138.60" cy="433.39" r="2.85"/><circle cx="144.18" cy="433.40" r="2.85"/><circle cx="149.81" cy="433.19" r="2.85"/><circle cx="156.55" cy="432.51" r="2.85"/><circle cx="161.78" cy="429.02" r="2.85"/><circle cx="168.22" cy="424.45" r="2.85"/><circle cx="174.51" cy="424.25" r="2.85"/><circle cx="180.46" cy="425.91" r="2.85"/><circle cx="186.11" cy="423.93" r="2.85"/><circle cx="192.42" cy="422.65" r="2.85"/><circle cx="198.10" cy="423.23" r="2.85"/><circle cx="204.55" cy="424.14" r="2.85"/><circle cx="210.08" cy="417.22" r="2.85"/><circle cx="215.71" cy="416.12" r="2.85"/><circle cx="222.55" cy="412.23" r="2.85"/><circle cx="228.55" cy="411.69" r="2.85"/><circle cx="234.18" cy="414.58" r="2.85"/><circle cx="240.20" cy="410.51" r="2.85"/><circle cx="245.62" cy="407.84" r="2.85"/><circle cx="251.44" cy="403.51" r="2.85"/><circle cx="258.51" cy="397.83" r="2.85"/><circle cx="263.89" cy="390.37" r="2.85"/><circle cx="270.19" cy="389.69" r="2.85"/><circle cx="275.85" cy="388.16" r="2.85"/><circle cx="282.10" cy="381.77" r="2.85"/><circle cx="288.05" cy="377.71" r="2.85"/><circle cx="293.92" cy="376.42" r="2.85"/></g>
<g fill="#d4608e" fill-opacity="0.6" stroke="#d4608e" stroke-opacity="0.7" stroke-width="0.9"><circle cx="424.62" cy="427.13" r="2.85"/><circle cx="430.20" cy="427.22" r="2.85"/><circle cx="433.71" cy="435.15" r="2.85"/><circle cx="439.11" cy="439.33" r="2.85"/><circle cx="443.67" cy="440.07" r="2.85"/><circle cx="448.32" cy="442.49" r="2.85"/><circle cx="453.19" cy="437.10" r="2.85"/><circle cx="456.74" cy="444.28" r="2.85"/></g>
<g fill="#d4608e" fill-opacity="0.6" stroke="#d4608e" stroke-opacity="0.7" stroke-width="0.9"><circle cx="302.70" cy="364.60" r="2.85"/><circle cx="307.40" cy="363.30" r="2.85"/><circle cx="312.00" cy="358.00" r="2.85"/><circle cx="317.50" cy="355.20" r="2.85"/><circle cx="322.20" cy="351.10" r="2.85"/><circle cx="327.60" cy="341.70" r="2.85"/><circle cx="332.30" cy="347.10" r="2.85"/><circle cx="337.00" cy="347.80" r="2.85"/><circle cx="341.70" cy="348.50" r="2.85"/><circle cx="346.40" cy="338.40" r="2.85"/><circle cx="351.10" cy="340.40" r="2.85"/><circle cx="355.90" cy="349.50" r="2.85"/><circle cx="359.90" cy="359.20" r="2.85"/><circle cx="364.60" cy="370.60" r="2.85"/><circle cx="369.20" cy="370.00" r="2.85"/><circle cx="372.70" cy="372.30" r="2.85"/><circle cx="378.50" cy="381.50" r="2.85"/><circle cx="382.50" cy="385.00" r="2.85"/><circle cx="386.50" cy="388.40" r="2.85"/><circle cx="390.00" cy="390.70" r="2.85"/><circle cx="395.00" cy="398.00" r="2.85"/><circle cx="400.40" cy="405.70" r="2.85"/><circle cx="405.00" cy="415.00" r="2.85"/><circle cx="408.40" cy="418.40" r="2.85"/><circle cx="412.50" cy="420.70" r="2.85"/><circle cx="416.50" cy="421.90" r="2.85"/><circle cx="420.50" cy="426.00" r="2.85"/></g>
<g fill="#f6a35a" fill-opacity="0.6" stroke="#f6a35a" stroke-opacity="0.7" stroke-width="0.9"><circle cx="156.25" cy="407.50" r="2.85"/><circle cx="165.00" cy="408.25" r="2.85"/><circle cx="173.00" cy="413.00" r="2.85"/><circle cx="181.25" cy="408.00" r="2.85"/><circle cx="189.25" cy="409.50" r="2.85"/><circle cx="197.00" cy="398.25" r="2.85"/><circle cx="204.50" cy="400.50" r="2.85"/><circle cx="212.00" cy="409.50" r="2.85"/><circle cx="219.25" cy="403.25" r="2.85"/><circle cx="226.25" cy="388.00" r="2.85"/><circle cx="233.75" cy="387.50" r="2.85"/><circle cx="240.50" cy="401.25" r="2.85"/><circle cx="246.90" cy="396.20" r="2.85"/><circle cx="253.80" cy="399.60" r="2.85"/><circle cx="260.80" cy="401.70" r="2.85"/><circle cx="267.70" cy="397.40" r="2.85"/><circle cx="274.60" cy="386.10" r="2.85"/><circle cx="279.80" cy="385.30" r="2.85"/><circle cx="285.30" cy="396.50" r="2.85"/><circle cx="291.60" cy="384.80" r="2.85"/><circle cx="297.10" cy="396.50" r="2.85"/><circle cx="303.10" cy="396.90" r="2.85"/><circle cx="309.20" cy="376.60" r="2.85"/><circle cx="314.70" cy="390.50" r="2.85"/><circle cx="320.40" cy="402.10" r="2.85"/><circle cx="326.30" cy="381.80" r="2.85"/><circle cx="331.90" cy="375.80" r="2.85"/><circle cx="337.10" cy="404.30" r="2.85"/><circle cx="342.30" cy="402.60" r="2.85"/><circle cx="347.50" cy="385.30" r="2.85"/><circle cx="352.70" cy="391.30" r="2.85"/><circle cx="357.90" cy="393.10" r="2.85"/><circle cx="363.40" cy="387.00" r="2.85"/><circle cx="368.30" cy="400.30" r="2.85"/><circle cx="373.40" cy="416.40" r="2.85"/><circle cx="378.60" cy="388.70" r="2.85"/><circle cx="383.80" cy="367.50" r="2.85"/><circle cx="389.00" cy="395.00" r="2.85"/><circle cx="395.10" cy="402.60" r="2.85"/><circle cx="403.20" cy="393.70" r="2.85"/><circle cx="408.00" cy="400.70" r="2.85"/><circle cx="412.70" cy="406.00" r="2.85"/><circle cx="417.30" cy="391.60" r="2.85"/><circle cx="421.60" cy="407.70" r="2.85"/><circle cx="426.40" cy="416.10" r="2.85"/><circle cx="431.30" cy="403.40" r="2.85"/><circle cx="435.50" cy="392.20" r="2.85"/><circle cx="440.20" cy="406.40" r="2.85"/><circle cx="444.40" cy="411.90" r="2.85"/><circle cx="449.10" cy="404.90" r="2.85"/><circle cx="453.30" cy="403.40" r="2.85"/><circle cx="457.50" cy="412.70" r="2.85"/><circle cx="462.40" cy="413.40" r="2.85"/><circle cx="466.00" cy="412.30" r="2.85"/><circle cx="470.20" cy="420.30" r="2.85"/><circle cx="474.00" cy="408.70" r="2.85"/><circle cx="478.70" cy="409.80" r="2.85"/><circle cx="482.90" cy="414.40" r="2.85"/><circle cx="487.20" cy="414.40" r="2.85"/><circle cx="491.00" cy="419.70" r="2.85"/><circle cx="495.20" cy="417.60" r="2.85"/><circle cx="499.40" cy="432.40" r="2.85"/></g>
<path d="M131.60,434.60 L133.32,434.39 L135.56,434.13 L138.22,433.82 L141.20,433.47 L144.39,433.09 L147.70,432.69 L151.02,432.27 L154.24,431.85 L157.27,431.42 L160.00,431.00 L162.42,430.59 L164.64,430.20 L166.71,429.80 L168.70,429.40 L170.68,428.98 L172.70,428.53 L174.83,428.05 L177.13,427.52 L179.67,426.94 L182.50,426.30 L185.72,425.57 L189.32,424.74 L193.20,423.85 L197.26,422.90 L201.41,421.93 L205.54,420.96 L209.56,420.00 L213.38,419.10 L216.89,418.25 L220.00,417.50 L222.69,416.87 L225.07,416.37 L227.19,415.95 L229.11,415.57 L230.90,415.21 L232.62,414.83 L234.32,414.38 L236.08,413.83 L237.95,413.15 L240.00,412.30 L242.18,411.28 L244.42,410.12 L246.70,408.85 L249.02,407.48 L251.36,406.04 L253.71,404.56 L256.07,403.04 L258.43,401.51 L260.78,399.99 L263.10,398.50 L265.45,397.01 L267.87,395.48 L270.32,393.92 L272.79,392.34 L275.23,390.74 L277.63,389.15 L279.95,387.57 L282.18,386.01 L284.27,384.48 L286.20,383.00 L287.96,381.60 L289.56,380.30 L291.03,379.07 L292.40,377.86 L293.70,376.65 L294.95,375.40 L296.18,374.07 L297.41,372.64 L298.67,371.06 L300.00,369.30 L301.36,367.33 L302.72,365.15 L304.08,362.83 L305.43,360.38 L306.77,357.88 L308.12,355.34 L309.47,352.82 L310.81,350.36 L312.16,348.01 L313.50,345.80 L314.87,343.68 L316.27,341.56 L317.69,339.46 L319.12,337.40 L320.54,335.41 L321.93,333.48 L323.27,331.65 L324.56,329.93 L325.78,328.34 L326.90,326.90 L327.94,325.61 L328.90,324.46 L329.80,323.44 L330.65,322.52 L331.45,321.71 L332.21,320.97 L332.94,320.29 L333.64,319.67 L334.32,319.07 L335.00,318.50 L335.65,317.97 L336.25,317.52 L336.82,317.14 L337.35,316.82 L337.87,316.54 L338.37,316.30 L338.87,316.08 L339.36,315.89 L339.87,315.69 L340.40,315.50 L340.93,315.29 L341.44,315.06 L341.94,314.84 L342.44,314.63 L342.94,314.46 L343.45,314.32 L343.99,314.24 L344.55,314.24 L345.15,314.32 L345.80,314.50 L346.50,314.76 L347.24,315.07 L348.02,315.43 L348.83,315.86 L349.66,316.36 L350.50,316.94 L351.34,317.61 L352.18,318.37 L353.00,319.23 L353.80,320.20 L354.60,321.33 L355.41,322.65 L356.23,324.12 L357.06,325.70 L357.87,327.33 L358.66,328.99 L359.43,330.63 L360.17,332.20 L360.86,333.67 L361.50,335.00 L362.08,336.17 L362.59,337.23 L363.05,338.21 L363.48,339.12 L363.89,340.01 L364.28,340.90 L364.68,341.81 L365.09,342.78 L365.52,343.84 L366.00,345.00 L366.51,346.28 L367.03,347.64 L367.57,349.07 L368.11,350.55 L368.67,352.06 L369.23,353.60 L369.80,355.13 L370.36,356.66 L370.93,358.15 L371.50,359.60 L372.07,361.01 L372.64,362.41 L373.22,363.80 L373.80,365.17 L374.38,366.54 L374.97,367.91 L375.55,369.28 L376.14,370.65 L376.72,372.02 L377.30,373.40 L377.88,374.79 L378.46,376.19 L379.04,377.60 L379.62,379.01 L380.21,380.42 L380.79,381.82 L381.37,383.22 L381.95,384.60 L382.52,385.96 L383.10,387.30 L383.67,388.63 L384.24,389.94 L384.81,391.25 L385.38,392.55 L385.95,393.83 L386.52,395.10 L387.09,396.35 L387.66,397.59 L388.23,398.80 L388.80,400.00 L389.38,401.18 L389.95,402.34 L390.53,403.49 L391.11,404.62 L391.69,405.73 L392.28,406.83 L392.86,407.90 L393.44,408.96 L394.02,409.99 L394.60,411.00 L395.17,411.98 L395.72,412.92 L396.27,413.83 L396.81,414.72 L397.36,415.59 L397.92,416.46 L398.50,417.33 L399.10,418.20 L399.73,419.09 L400.40,420.00 L401.09,420.94 L401.80,421.89 L402.52,422.86 L403.27,423.84 L404.04,424.81 L404.84,425.78 L405.67,426.74 L406.53,427.69 L407.44,428.61 L408.40,429.50 L409.41,430.37 L410.46,431.23 L411.56,432.07 L412.69,432.90 L413.86,433.72 L415.05,434.52 L416.27,435.29 L417.50,436.05 L418.75,436.79 L420.00,437.50 L421.27,438.20 L422.58,438.89 L423.91,439.56 L425.26,440.22 L426.63,440.86 L428.01,441.46 L429.39,442.03 L430.77,442.57 L432.14,443.06 L433.50,443.50 L434.85,443.89 L436.19,444.22 L437.53,444.51 L438.87,444.76 L440.21,444.98 L441.55,445.17 L442.90,445.34 L444.26,445.50 L445.62,445.65 L447.00,445.80 L448.46,445.94 L450.02,446.05 L451.66,446.15 L453.31,446.23 L454.94,446.29 L456.51,446.35 L457.96,446.39 L459.26,446.43 L460.35,446.47 L461.20,446.50" stroke="#6a00a8" stroke-width="1.7" fill="none" stroke-linejoin="round"/>
<path d="M131.60,434.60 L133.32,434.36 L135.56,434.06 L138.22,433.70 L141.20,433.30 L144.39,432.86 L147.70,432.40 L151.02,431.93 L154.24,431.44 L157.27,430.96 L160.00,430.50 L162.42,430.06 L164.64,429.63 L166.71,429.21 L168.70,428.78 L170.68,428.34 L172.70,427.87 L174.83,427.36 L177.13,426.80 L179.67,426.19 L182.50,425.50 L185.72,424.73 L189.32,423.87 L193.20,422.94 L197.26,421.97 L201.41,420.96 L205.54,419.93 L209.56,418.90 L213.38,417.90 L216.89,416.92 L220.00,416.00 L222.69,415.15 L225.07,414.35 L227.19,413.60 L229.11,412.86 L230.90,412.12 L232.62,411.37 L234.32,410.56 L236.08,409.70 L237.95,408.75 L240.00,407.70 L242.18,406.54 L244.42,405.28 L246.70,403.94 L249.02,402.54 L251.36,401.09 L253.71,399.62 L256.07,398.14 L258.43,396.66 L260.78,395.21 L263.10,393.80 L265.45,392.41 L267.87,391.02 L270.32,389.62 L272.79,388.22 L275.23,386.82 L277.63,385.44 L279.95,384.06 L282.18,382.69 L284.27,381.34 L286.20,380.00 L287.96,378.69 L289.56,377.40 L291.03,376.13 L292.40,374.88 L293.70,373.63 L294.95,372.38 L296.18,371.13 L297.41,369.87 L298.67,368.60 L300.00,367.30 L301.36,365.95 L302.72,364.55 L304.08,363.12 L305.43,361.66 L306.77,360.22 L308.12,358.80 L309.47,357.43 L310.81,356.12 L312.16,354.91 L313.50,353.80 L314.86,352.79 L316.25,351.84 L317.65,350.96 L319.06,350.14 L320.46,349.38 L321.83,348.68 L323.18,348.03 L324.48,347.44 L325.72,346.89 L326.90,346.40 L328.00,345.96 L329.01,345.59 L329.97,345.28 L330.88,345.02 L331.76,344.81 L332.63,344.65 L333.50,344.54 L334.39,344.46 L335.32,344.41 L336.30,344.40 L337.31,344.40 L338.34,344.42 L339.37,344.46 L340.42,344.54 L341.48,344.67 L342.56,344.85 L343.66,345.11 L344.78,345.44 L345.93,345.87 L347.10,346.40 L348.31,347.06 L349.57,347.85 L350.86,348.76 L352.18,349.74 L353.51,350.79 L354.84,351.88 L356.17,352.98 L357.48,354.06 L358.76,355.11 L360.00,356.10 L361.21,357.03 L362.39,357.93 L363.55,358.81 L364.70,359.69 L365.83,360.56 L366.96,361.45 L368.09,362.37 L369.22,363.33 L370.35,364.33 L371.50,365.40 L372.66,366.51 L373.82,367.63 L374.98,368.78 L376.14,369.96 L377.30,371.18 L378.46,372.45 L379.62,373.76 L380.78,375.14 L381.94,376.58 L383.10,378.10 L384.25,379.73 L385.41,381.49 L386.56,383.34 L387.71,385.27 L388.86,387.23 L390.00,389.19 L391.15,391.13 L392.30,393.02 L393.45,394.82 L394.60,396.50 L395.74,398.07 L396.86,399.57 L397.97,401.00 L399.08,402.39 L400.20,403.74 L401.33,405.06 L402.47,406.38 L403.65,407.70 L404.85,409.03 L406.10,410.40 L407.38,411.80 L408.68,413.21 L410.00,414.63 L411.34,416.05 L412.71,417.47 L414.11,418.87 L415.53,420.25 L416.99,421.61 L418.48,422.93 L420.00,424.20 L421.54,425.44 L423.07,426.65 L424.62,427.83 L426.19,428.99 L427.80,430.12 L429.46,431.23 L431.19,432.31 L433.00,433.37 L434.90,434.40 L436.90,435.40 L439.14,436.40 L441.68,437.42 L444.41,438.44 L447.25,439.44 L450.11,440.40 L452.87,441.30 L455.46,442.13 L457.78,442.87 L459.72,443.50 L461.20,444.00" stroke="#b8376e" stroke-width="1.6" fill="none" stroke-linejoin="round"/>
<path d="M155.80,424.20 L158.40,423.53 L161.72,422.67 L165.63,421.66 L170.02,420.52 L174.78,419.29 L179.78,418.00 L184.92,416.70 L190.08,415.41 L195.15,414.16 L200.00,413.00 L204.88,411.87 L210.04,410.70 L215.37,409.51 L220.80,408.32 L226.23,407.14 L231.55,405.99 L236.68,404.88 L241.53,403.84 L246.00,402.87 L250.00,402.00 L253.44,401.22 L256.39,400.50 L258.93,399.85 L261.19,399.25 L263.26,398.71 L265.26,398.22 L267.29,397.76 L269.45,397.35 L271.85,396.96 L274.60,396.60 L277.66,396.28 L280.88,396.01 L284.25,395.79 L287.72,395.61 L291.28,395.46 L294.88,395.34 L298.50,395.24 L302.12,395.16 L305.70,395.08 L309.20,395.00 L312.74,394.93 L316.41,394.88 L320.16,394.84 L323.92,394.83 L327.65,394.83 L331.28,394.84 L334.77,394.86 L338.06,394.90 L341.09,394.94 L343.80,395.00 L346.17,395.07 L348.24,395.16 L350.06,395.27 L351.68,395.40 L353.15,395.53 L354.52,395.67 L355.84,395.81 L357.16,395.95 L358.53,396.08 L360.00,396.20 L361.43,396.30 L362.70,396.36 L363.87,396.41 L365.00,396.45 L366.15,396.50 L367.40,396.57 L368.80,396.67 L370.43,396.82 L372.34,397.02 L374.60,397.30 L377.25,397.65 L380.24,398.05 L383.51,398.51 L387.00,399.00 L390.65,399.54 L394.40,400.10 L398.19,400.69 L401.96,401.29 L405.65,401.89 L409.20,402.50 L412.66,403.11 L416.12,403.74 L419.58,404.39 L423.04,405.05 L426.49,405.73 L429.95,406.43 L433.41,407.14 L436.87,407.88 L440.34,408.63 L443.80,409.40 L447.33,410.21 L450.96,411.06 L454.64,411.96 L458.34,412.87 L462.02,413.79 L465.62,414.71 L469.12,415.62 L472.45,416.49 L475.60,417.32 L478.50,418.10 L481.23,418.85 L483.87,419.60 L486.39,420.34 L488.78,421.06 L491.02,421.74 L493.08,422.39 L494.95,422.97 L496.61,423.50 L498.03,423.94 L499.20,424.30" stroke="#f28a30" stroke-width="1.5" fill="none" stroke-linejoin="round"/>
<g font-size="20.78" fill="#000"><text x="94.50" y="36.30" textLength="7.65" lengthAdjust="spacingAndGlyphs">(</text><text x="102.15" y="36.30" textLength="12.01" lengthAdjust="spacingAndGlyphs">a</text><text x="114.16" y="36.30" textLength="7.65" lengthAdjust="spacingAndGlyphs">)</text><text x="128.04" y="36.30" textLength="10.78" lengthAdjust="spacingAndGlyphs">c</text><text x="138.81" y="36.30" textLength="7.07" lengthAdjust="spacingAndGlyphs">-</text><text x="145.88" y="36.30" textLength="10.78" lengthAdjust="spacingAndGlyphs">c</text><text x="156.66" y="36.30" textLength="12.42" lengthAdjust="spacingAndGlyphs">u</text><text x="169.08" y="36.30" textLength="7.69" lengthAdjust="spacingAndGlyphs">t</text></g>
<g font-size="20.78" fill="#000"><text x="425.50" y="36.60" textLength="12.47" lengthAdjust="spacingAndGlyphs">4</text><text x="437.97" y="36.60" textLength="14.74" lengthAdjust="spacingAndGlyphs">H</text><text x="452.71" y="36.60" textLength="7.07" lengthAdjust="spacingAndGlyphs">-</text><text x="459.78" y="36.60" textLength="12.44" lengthAdjust="spacingAndGlyphs">S</text><text x="472.22" y="36.60" textLength="5.45" lengthAdjust="spacingAndGlyphs">i</text><text x="477.67" y="36.60" textLength="13.69" lengthAdjust="spacingAndGlyphs">C</text></g>
<g font-size="18.87" fill="#7626a6"><text x="128.80" y="75.00" textLength="10.73" lengthAdjust="spacingAndGlyphs">P</text><text x="139.53" y="75.00" textLength="7.32" lengthAdjust="spacingAndGlyphs">r</text><text x="146.54" y="75.00" textLength="10.95" lengthAdjust="spacingAndGlyphs">e</text><text x="157.10" y="75.00" textLength="6.42" lengthAdjust="spacingAndGlyphs">-</text><text x="163.52" y="75.00" textLength="11.30" lengthAdjust="spacingAndGlyphs">d</text><text x="174.82" y="75.00" textLength="4.95" lengthAdjust="spacingAndGlyphs">i</text><text x="179.77" y="75.00" textLength="6.27" lengthAdjust="spacingAndGlyphs">f</text><text x="186.03" y="75.00" textLength="6.27" lengthAdjust="spacingAndGlyphs">f</text><text x="192.03" y="75.00" textLength="11.28" lengthAdjust="spacingAndGlyphs">u</text><text x="203.31" y="75.00" textLength="9.27" lengthAdjust="spacingAndGlyphs">s</text><text x="212.59" y="75.00" textLength="4.95" lengthAdjust="spacingAndGlyphs">i</text><text x="217.53" y="75.00" textLength="10.89" lengthAdjust="spacingAndGlyphs">o</text><text x="228.42" y="75.00" textLength="11.28" lengthAdjust="spacingAndGlyphs">n</text></g>
<g font-size="18.87" fill="#be4476"><text x="128.80" y="97.60" textLength="11.33" lengthAdjust="spacingAndGlyphs">1</text><text x="140.13" y="97.60" textLength="11.33" lengthAdjust="spacingAndGlyphs">3</text><text x="151.45" y="97.60" textLength="11.33" lengthAdjust="spacingAndGlyphs">0</text><text x="162.78" y="97.60" textLength="11.33" lengthAdjust="spacingAndGlyphs">0</text><text x="174.10" y="97.60" textLength="8.90" lengthAdjust="spacingAndGlyphs">°</text><text x="183.00" y="97.60" textLength="12.43" lengthAdjust="spacingAndGlyphs">C</text><text x="201.09" y="97.60" textLength="11.33" lengthAdjust="spacingAndGlyphs">8</text><text x="212.41" y="97.60" textLength="11.28" lengthAdjust="spacingAndGlyphs">h</text></g>
<g font-size="18.87" fill="#ef9846"><text x="128.80" y="120.20" textLength="11.33" lengthAdjust="spacingAndGlyphs">1</text><text x="140.13" y="120.20" textLength="11.33" lengthAdjust="spacingAndGlyphs">5</text><text x="151.45" y="120.20" textLength="11.33" lengthAdjust="spacingAndGlyphs">0</text><text x="162.78" y="120.20" textLength="11.33" lengthAdjust="spacingAndGlyphs">0</text><text x="174.10" y="120.20" textLength="8.90" lengthAdjust="spacingAndGlyphs">°</text><text x="183.00" y="120.20" textLength="12.43" lengthAdjust="spacingAndGlyphs">C</text><text x="201.09" y="120.20" textLength="11.33" lengthAdjust="spacingAndGlyphs">1</text><text x="212.41" y="120.20" textLength="11.28" lengthAdjust="spacingAndGlyphs">h</text></g>
<g font-size="20.99" fill="#000"><text x="94.80" y="270.80" textLength="7.73" lengthAdjust="spacingAndGlyphs">(</text><text x="102.53" y="270.80" textLength="12.57" lengthAdjust="spacingAndGlyphs">b</text><text x="115.09" y="270.80" textLength="7.73" lengthAdjust="spacingAndGlyphs">)</text><text x="129.11" y="270.80" textLength="12.13" lengthAdjust="spacingAndGlyphs">a</text><text x="141.25" y="270.80" textLength="7.15" lengthAdjust="spacingAndGlyphs">-</text><text x="148.39" y="270.80" textLength="10.89" lengthAdjust="spacingAndGlyphs">c</text><text x="159.28" y="270.80" textLength="12.55" lengthAdjust="spacingAndGlyphs">u</text><text x="171.83" y="270.80" textLength="7.76" lengthAdjust="spacingAndGlyphs">t</text></g>
<g font-size="18.87" fill="#7626a6"><text x="128.80" y="308.80" textLength="10.73" lengthAdjust="spacingAndGlyphs">P</text><text x="139.53" y="308.80" textLength="7.32" lengthAdjust="spacingAndGlyphs">r</text><text x="146.54" y="308.80" textLength="10.95" lengthAdjust="spacingAndGlyphs">e</text><text x="157.10" y="308.80" textLength="6.42" lengthAdjust="spacingAndGlyphs">-</text><text x="163.52" y="308.80" textLength="11.30" lengthAdjust="spacingAndGlyphs">d</text><text x="174.82" y="308.80" textLength="4.95" lengthAdjust="spacingAndGlyphs">i</text><text x="179.77" y="308.80" textLength="6.27" lengthAdjust="spacingAndGlyphs">f</text><text x="186.03" y="308.80" textLength="6.27" lengthAdjust="spacingAndGlyphs">f</text><text x="192.03" y="308.80" textLength="11.28" lengthAdjust="spacingAndGlyphs">u</text><text x="203.31" y="308.80" textLength="9.27" lengthAdjust="spacingAndGlyphs">s</text><text x="212.59" y="308.80" textLength="4.95" lengthAdjust="spacingAndGlyphs">i</text><text x="217.53" y="308.80" textLength="10.89" lengthAdjust="spacingAndGlyphs">o</text><text x="228.42" y="308.80" textLength="11.28" lengthAdjust="spacingAndGlyphs">n</text></g>
<g font-size="18.87" fill="#be4476"><text x="128.80" y="331.40" textLength="11.33" lengthAdjust="spacingAndGlyphs">1</text><text x="140.13" y="331.40" textLength="11.33" lengthAdjust="spacingAndGlyphs">2</text><text x="151.45" y="331.40" textLength="11.33" lengthAdjust="spacingAndGlyphs">0</text><text x="162.78" y="331.40" textLength="11.33" lengthAdjust="spacingAndGlyphs">0</text><text x="174.10" y="331.40" textLength="8.90" lengthAdjust="spacingAndGlyphs">°</text><text x="183.00" y="331.40" textLength="12.43" lengthAdjust="spacingAndGlyphs">C</text><text x="201.09" y="331.40" textLength="11.33" lengthAdjust="spacingAndGlyphs">5</text><text x="212.41" y="331.40" textLength="11.28" lengthAdjust="spacingAndGlyphs">h</text></g>
<g font-size="18.87" fill="#ef9846"><text x="128.80" y="354.00" textLength="11.33" lengthAdjust="spacingAndGlyphs">1</text><text x="140.13" y="354.00" textLength="11.33" lengthAdjust="spacingAndGlyphs">5</text><text x="151.45" y="354.00" textLength="11.33" lengthAdjust="spacingAndGlyphs">0</text><text x="162.78" y="354.00" textLength="11.33" lengthAdjust="spacingAndGlyphs">0</text><text x="174.10" y="354.00" textLength="8.90" lengthAdjust="spacingAndGlyphs">°</text><text x="183.00" y="354.00" textLength="12.43" lengthAdjust="spacingAndGlyphs">C</text><text x="201.09" y="354.00" textLength="11.33" lengthAdjust="spacingAndGlyphs">0</text><text x="212.41" y="354.00" textLength="5.66" lengthAdjust="spacingAndGlyphs">.</text><text x="218.07" y="354.00" textLength="11.33" lengthAdjust="spacingAndGlyphs">5</text><text x="229.40" y="354.00" textLength="11.28" lengthAdjust="spacingAndGlyphs">h</text></g>
<g font-size="21.09" fill="#000"><text x="74.28" y="481.00" textLength="12.66" lengthAdjust="spacingAndGlyphs">1</text><text x="86.94" y="481.00" textLength="6.33" lengthAdjust="spacingAndGlyphs">.</text><text x="93.26" y="481.00" textLength="12.66" lengthAdjust="spacingAndGlyphs">5</text></g>
<g font-size="21.09" fill="#000"><text x="167.25" y="481.00" textLength="12.66" lengthAdjust="spacingAndGlyphs">2</text><text x="179.92" y="481.00" textLength="6.33" lengthAdjust="spacingAndGlyphs">.</text><text x="186.24" y="481.00" textLength="12.66" lengthAdjust="spacingAndGlyphs">0</text></g>
<g font-size="21.09" fill="#000"><text x="260.23" y="481.00" textLength="12.66" lengthAdjust="spacingAndGlyphs">2</text><text x="272.90" y="481.00" textLength="6.33" lengthAdjust="spacingAndGlyphs">.</text><text x="279.22" y="481.00" textLength="12.66" lengthAdjust="spacingAndGlyphs">5</text></g>
<g font-size="21.09" fill="#000"><text x="353.21" y="481.00" textLength="12.66" lengthAdjust="spacingAndGlyphs">3</text><text x="365.87" y="481.00" textLength="6.33" lengthAdjust="spacingAndGlyphs">.</text><text x="372.20" y="481.00" textLength="12.66" lengthAdjust="spacingAndGlyphs">0</text></g>
<g font-size="21.09" fill="#000"><text x="446.19" y="481.00" textLength="12.66" lengthAdjust="spacingAndGlyphs">3</text><text x="458.85" y="481.00" textLength="6.33" lengthAdjust="spacingAndGlyphs">.</text><text x="465.18" y="481.00" textLength="12.66" lengthAdjust="spacingAndGlyphs">5</text></g>
<g font-size="20.67" fill="#000"><text x="238.49" y="507.00" textLength="15.02" lengthAdjust="spacingAndGlyphs">D</text><text x="253.50" y="507.00" textLength="12.00" lengthAdjust="spacingAndGlyphs">e</text><text x="265.50" y="507.00" textLength="12.38" lengthAdjust="spacingAndGlyphs">p</text><text x="277.88" y="507.00" textLength="7.65" lengthAdjust="spacingAndGlyphs">t</text><text x="285.53" y="507.00" textLength="12.36" lengthAdjust="spacingAndGlyphs">h</text><text x="304.08" y="507.00" textLength="7.61" lengthAdjust="spacingAndGlyphs">(</text><text x="311.69" y="507.00" textLength="12.41" lengthAdjust="spacingAndGlyphs">µ</text><text x="324.10" y="507.00" textLength="19.00" lengthAdjust="spacingAndGlyphs">m</text><text x="343.09" y="507.00" textLength="7.61" lengthAdjust="spacingAndGlyphs">)</text></g>
<g transform="translate(19.3,377.10) rotate(-90)"><g font-size="21.20" font-style="italic"><text x="0.00" y="0.00" textLength="13.68" lengthAdjust="spacingAndGlyphs">V</text></g><g font-size="14.84"><text x="13.68" y="3.50" textLength="9.78" lengthAdjust="spacingAndGlyphs">C</text></g><g font-size="21.20"><text x="29.82" y="0.00" textLength="11.00" lengthAdjust="spacingAndGlyphs">c</text><text x="40.81" y="0.00" textLength="12.24" lengthAdjust="spacingAndGlyphs">o</text><text x="53.05" y="0.00" textLength="12.68" lengthAdjust="spacingAndGlyphs">n</text><text x="65.72" y="0.00" textLength="11.00" lengthAdjust="spacingAndGlyphs">c</text><text x="76.72" y="0.00" textLength="12.30" lengthAdjust="spacingAndGlyphs">e</text><text x="89.02" y="0.00" textLength="12.68" lengthAdjust="spacingAndGlyphs">n</text><text x="101.70" y="0.00" textLength="7.84" lengthAdjust="spacingAndGlyphs">t</text><text x="109.54" y="0.00" textLength="8.22" lengthAdjust="spacingAndGlyphs">r</text><text x="117.77" y="0.00" textLength="12.26" lengthAdjust="spacingAndGlyphs">a</text><text x="130.02" y="0.00" textLength="7.84" lengthAdjust="spacingAndGlyphs">t</text><text x="137.86" y="0.00" textLength="5.56" lengthAdjust="spacingAndGlyphs">i</text><text x="143.42" y="0.00" textLength="12.24" lengthAdjust="spacingAndGlyphs">o</text><text x="155.66" y="0.00" textLength="12.68" lengthAdjust="spacingAndGlyphs">n</text><text x="174.69" y="0.00" textLength="7.80" lengthAdjust="spacingAndGlyphs">(</text><text x="182.49" y="0.00" textLength="12.72" lengthAdjust="spacingAndGlyphs">1</text><text x="195.22" y="0.00" textLength="12.72" lengthAdjust="spacingAndGlyphs">0</text></g><g font-size="14.84"><text x="207.94" y="-8.00" textLength="8.91" lengthAdjust="spacingAndGlyphs">1</text><text x="216.85" y="-8.00" textLength="8.91" lengthAdjust="spacingAndGlyphs">4</text></g><g font-size="21.20"><text x="232.12" y="0.00" textLength="11.00" lengthAdjust="spacingAndGlyphs">c</text><text x="243.11" y="0.00" textLength="19.48" lengthAdjust="spacingAndGlyphs">m</text></g><g font-size="14.84"><text x="262.60" y="-8.00" textLength="11.73" lengthAdjust="spacingAndGlyphs">−</text><text x="274.33" y="-8.00" textLength="8.91" lengthAdjust="spacingAndGlyphs">3</text></g><g font-size="21.20"><text x="283.23" y="0.00" textLength="7.80" lengthAdjust="spacingAndGlyphs">)</text></g></g>
<g font-size="19.72" fill="#000"><text x="20.10" y="526.00" textLength="7.26" lengthAdjust="spacingAndGlyphs">(</text><text x="27.36" y="526.00" textLength="10.23" lengthAdjust="spacingAndGlyphs">c</text><text x="37.58" y="526.00" textLength="7.26" lengthAdjust="spacingAndGlyphs">)</text></g>
<g font-size="20.78" fill="#000"><text x="74.90" y="529.50" textLength="10.78" lengthAdjust="spacingAndGlyphs">c</text><text x="85.68" y="529.50" textLength="7.07" lengthAdjust="spacingAndGlyphs">-</text><text x="92.75" y="529.50" textLength="10.78" lengthAdjust="spacingAndGlyphs">c</text><text x="103.53" y="529.50" textLength="12.42" lengthAdjust="spacingAndGlyphs">u</text><text x="115.95" y="529.50" textLength="7.69" lengthAdjust="spacingAndGlyphs">t</text></g>
<g font-size="20.78" fill="#000"><text x="419.80" y="530.00" textLength="12.01" lengthAdjust="spacingAndGlyphs">a</text><text x="431.81" y="530.00" textLength="7.07" lengthAdjust="spacingAndGlyphs">-</text><text x="438.88" y="530.00" textLength="10.78" lengthAdjust="spacingAndGlyphs">c</text><text x="449.66" y="530.00" textLength="12.42" lengthAdjust="spacingAndGlyphs">u</text><text x="462.08" y="530.00" textLength="7.69" lengthAdjust="spacingAndGlyphs">t</text></g>
<path d="M150.4,557 V908.5 H33" stroke="#000" stroke-width="1.6" fill="none"/>
<path d="M150.40,551.00L154.00,560.00L146.80,560.00Z" fill="#000"/>
<path d="M26.00,908.50L35.00,904.90L35.00,912.10Z" fill="#000"/>
<path d="M145.8,577.40H150.4M145.8,655.90H150.4M145.8,733.80H150.4M145.8,812.50H150.4M145.8,890.20H150.4" stroke="#000" stroke-width="1.3"/>
<g font-size="16.54" fill="#000" font-style="italic"><text x="95.80" y="561.50" textLength="8.58" lengthAdjust="spacingAndGlyphs">c</text></g>
<g font-size="16.54" fill="#000"><text x="104.38" y="561.50" textLength="5.63" lengthAdjust="spacingAndGlyphs">-</text><text x="110.01" y="561.50" textLength="9.56" lengthAdjust="spacingAndGlyphs">a</text><text x="119.57" y="561.50" textLength="9.23" lengthAdjust="spacingAndGlyphs">x</text><text x="128.80" y="561.50" textLength="4.33" lengthAdjust="spacingAndGlyphs">i</text><text x="133.13" y="561.50" textLength="8.13" lengthAdjust="spacingAndGlyphs">s</text></g>
<g font-size="16.54" fill="#000" font-style="italic"><text x="156.00" y="583.40" textLength="9.03" lengthAdjust="spacingAndGlyphs">k</text><text x="165.03" y="583.40" textLength="4.29" lengthAdjust="spacingAndGlyphs">'</text></g>
<g font-size="16.54" fill="#000" font-style="italic"><text x="156.00" y="661.90" textLength="9.89" lengthAdjust="spacingAndGlyphs">h</text></g>
<g font-size="16.54" fill="#000" font-style="italic"><text x="156.00" y="739.80" textLength="9.03" lengthAdjust="spacingAndGlyphs">k</text></g>
<g font-size="16.54" fill="#000" font-style="italic"><text x="156.00" y="818.50" textLength="9.89" lengthAdjust="spacingAndGlyphs">h</text><text x="165.89" y="818.50" textLength="4.29" lengthAdjust="spacingAndGlyphs">'</text></g>
<g font-size="16.54" fill="#000" font-style="italic"><text x="156.00" y="896.20" textLength="9.03" lengthAdjust="spacingAndGlyphs">k</text><text x="165.03" y="896.20" textLength="4.29" lengthAdjust="spacingAndGlyphs">'</text></g>
<g font-size="16.54" fill="#000"><text x="61.60" y="924.00" textLength="9.86" lengthAdjust="spacingAndGlyphs">E</text><text x="71.46" y="924.00" textLength="9.89" lengthAdjust="spacingAndGlyphs">n</text><text x="81.34" y="924.00" textLength="9.60" lengthAdjust="spacingAndGlyphs">e</text><text x="90.94" y="924.00" textLength="6.41" lengthAdjust="spacingAndGlyphs">r</text><text x="97.36" y="924.00" textLength="9.90" lengthAdjust="spacingAndGlyphs">g</text><text x="106.98" y="924.00" textLength="9.23" lengthAdjust="spacingAndGlyphs">y</text></g>
<path d="M143.60,577.60 L143.13,579.20 L142.22,580.35 L141.00,581.38 L139.55,582.33 L137.89,583.23 L136.06,584.09 L134.07,584.92 L131.94,585.72 L129.69,586.50 L127.33,587.27 L124.88,588.01 L122.34,588.74 L119.72,589.46 L117.05,590.17 L114.32,590.86 L111.55,591.55 L108.74,592.22 L105.91,592.89 L103.06,593.55 L100.19,594.20 L97.32,594.84 L94.45,595.48 L91.59,596.11 L88.75,596.73 L85.93,597.35 L83.13,597.97 L80.37,598.57 L77.65,599.18 L74.96,599.78 L72.33,600.37 L69.75,600.96 L67.22,601.55 L64.75,602.13 L62.35,602.71 L60.02,603.28 L57.75,603.85 L55.56,604.42 L53.45,604.98 L51.42,605.54 L49.47,606.10 L47.61,606.65 L45.83,607.20 L44.14,607.75 L42.55,608.30 L41.04,608.84 L39.63,609.38 L38.32,609.92 L37.10,610.45 L35.98,610.99 L34.95,611.52 L34.02,612.04 L33.20,612.57 L32.47,613.09 L31.83,613.62 L31.30,614.13 L30.87,614.65 L30.53,615.17 L30.29,615.68 L30.15,616.19 L30.10,616.70 L30.23,617.61 L30.55,618.42 L31.06,619.19 L31.72,619.95 L32.53,620.69 L33.49,621.41 L34.59,622.13 L35.81,622.84 L37.16,623.54 L38.63,624.24 L40.20,624.93 L41.88,625.62 L43.66,626.30 L45.53,626.98 L47.48,627.65 L49.51,628.32 L51.61,628.99 L53.78,629.65 L56.01,630.31 L58.29,630.97 L60.62,631.62 L62.98,632.27 L65.38,632.92 L67.81,633.57 L70.25,634.22 L72.71,634.86 L75.18,635.50 L77.65,636.14 L80.11,636.78 L82.56,637.42 L84.99,638.05 L87.40,638.68 L89.78,639.32 L92.12,639.95 L94.42,640.57 L96.68,641.20 L98.89,641.83 L101.03,642.45 L103.12,643.07 L105.14,643.69 L107.10,644.32 L108.97,644.93 L110.77,645.55 L112.48,646.17 L114.11,646.78 L115.65,647.40 L117.10,648.01 L118.45,648.62 L119.70,649.24 L120.84,649.85 L121.89,650.46 L122.83,651.06 L123.66,651.67 L124.39,652.28 L125.00,652.88 L125.50,653.49 L125.90,654.09 L126.18,654.70 L126.34,655.30 L126.40,655.90 L126.05,657.52 L125.38,658.68 L124.49,659.72 L123.42,660.68 L122.20,661.59 L120.85,662.46 L119.39,663.29 L117.82,664.10 L116.17,664.89 L114.43,665.66 L112.62,666.42 L110.76,667.16 L108.84,667.88 L106.87,668.59 L104.86,669.30 L102.82,669.99 L100.76,670.67 L98.67,671.34 L96.57,672.01 L94.46,672.67 L92.35,673.32 L90.24,673.96 L88.14,674.60 L86.05,675.23 L83.97,675.85 L81.92,676.47 L79.88,677.09 L77.88,677.70 L75.91,678.30 L73.97,678.90 L72.07,679.50 L70.21,680.09 L68.39,680.68 L66.63,681.26 L64.91,681.84 L63.24,682.42 L61.63,682.99 L60.08,683.56 L58.59,684.13 L57.15,684.69 L55.78,685.25 L54.47,685.81 L53.23,686.36 L52.06,686.91 L50.95,687.46 L49.91,688.01 L48.95,688.55 L48.05,689.09 L47.22,689.63 L46.47,690.16 L45.79,690.70 L45.18,691.23 L44.64,691.76 L44.18,692.28 L43.78,692.81 L43.46,693.33 L43.22,693.85 L43.04,694.37 L42.93,694.89 L42.90,695.40 L43.03,696.29 L43.37,697.08 L43.90,697.84 L44.59,698.58 L45.45,699.30 L46.45,700.02 L47.59,700.72 L48.88,701.42 L50.29,702.10 L51.82,702.79 L53.46,703.46 L55.22,704.14 L57.08,704.80 L59.03,705.47 L61.07,706.13 L63.20,706.78 L65.40,707.43 L67.67,708.08 L69.99,708.73 L72.38,709.38 L74.81,710.02 L77.29,710.66 L79.80,711.29 L82.33,711.93 L84.89,712.56 L87.46,713.19 L90.04,713.82 L92.62,714.45 L95.19,715.07 L97.75,715.69 L100.30,716.32 L102.82,716.94 L105.30,717.55 L107.75,718.17 L110.16,718.79 L112.52,719.40 L114.83,720.01 L117.08,720.63 L119.26,721.24 L121.37,721.84 L123.41,722.45 L125.38,723.06 L127.26,723.66 L129.05,724.27 L130.75,724.87 L132.36,725.47 L133.87,726.07 L135.28,726.67 L136.59,727.27 L137.79,727.87 L138.88,728.47 L139.87,729.06 L140.74,729.66 L141.49,730.25 L142.14,730.85 L142.66,731.44 L143.07,732.03 L143.37,732.62 L143.54,733.21 L143.60,733.80 L143.13,735.38 L142.22,736.51 L141.00,737.51 L139.55,738.44 L137.89,739.33 L136.06,740.17 L134.07,740.99 L131.94,741.78 L129.69,742.54 L127.33,743.29 L124.88,744.02 L122.34,744.74 L119.72,745.45 L117.05,746.14 L114.32,746.82 L111.55,747.50 L108.74,748.16 L105.91,748.81 L103.06,749.46 L100.19,750.10 L97.32,750.73 L94.45,751.36 L91.59,751.98 L88.75,752.59 L85.93,753.20 L83.13,753.80 L80.37,754.40 L77.65,754.99 L74.96,755.58 L72.33,756.16 L69.75,756.74 L67.22,757.32 L64.75,757.89 L62.35,758.46 L60.02,759.02 L57.75,759.58 L55.56,760.14 L53.45,760.69 L51.42,761.24 L49.47,761.79 L47.61,762.33 L45.83,762.87 L44.14,763.41 L42.55,763.95 L41.04,764.48 L39.63,765.01 L38.32,765.54 L37.10,766.07 L35.98,766.59 L34.95,767.11 L34.02,767.63 L33.20,768.14 L32.47,768.66 L31.83,769.17 L31.30,769.68 L30.87,770.19 L30.53,770.69 L30.29,771.20 L30.15,771.70 L30.10,772.20 L30.23,773.13 L30.55,773.96 L31.06,774.76 L31.72,775.54 L32.53,776.30 L33.49,777.05 L34.59,777.78 L35.81,778.51 L37.16,779.24 L38.63,779.95 L40.20,780.66 L41.88,781.37 L43.66,782.07 L45.53,782.76 L47.48,783.46 L49.51,784.15 L51.61,784.83 L53.78,785.51 L56.01,786.19 L58.29,786.87 L60.62,787.54 L62.98,788.21 L65.38,788.88 L67.81,789.55 L70.25,790.21 L72.71,790.87 L75.18,791.53 L77.65,792.19 L80.11,792.84 L82.56,793.50 L84.99,794.15 L87.40,794.80 L89.78,795.45 L92.12,796.10 L94.42,796.74 L96.68,797.39 L98.89,798.03 L101.03,798.67 L103.12,799.31 L105.14,799.95 L107.10,800.59 L108.97,801.23 L110.77,801.86 L112.48,802.50 L114.11,803.13 L115.65,803.76 L117.10,804.39 L118.45,805.02 L119.70,805.65 L120.84,806.28 L121.89,806.90 L122.83,807.53 L123.66,808.15 L124.39,808.78 L125.00,809.40 L125.50,810.02 L125.90,810.64 L126.18,811.26 L126.34,811.88 L126.40,812.50 L126.05,814.08 L125.38,815.21 L124.49,816.21 L123.42,817.14 L122.20,818.03 L120.85,818.87 L119.39,819.69 L117.82,820.48 L116.17,821.24 L114.43,821.99 L112.62,822.72 L110.76,823.44 L108.84,824.15 L106.87,824.84 L104.86,825.52 L102.82,826.20 L100.76,826.86 L98.67,827.51 L96.57,828.16 L94.46,828.80 L92.35,829.43 L90.24,830.06 L88.14,830.68 L86.05,831.29 L83.97,831.90 L81.92,832.50 L79.88,833.10 L77.88,833.69 L75.91,834.28 L73.97,834.86 L72.07,835.44 L70.21,836.02 L68.39,836.59 L66.63,837.16 L64.91,837.72 L63.24,838.28 L61.63,838.84 L60.08,839.39 L58.59,839.94 L57.15,840.49 L55.78,841.03 L54.47,841.57 L53.23,842.11 L52.06,842.65 L50.95,843.18 L49.91,843.71 L48.95,844.24 L48.05,844.77 L47.22,845.29 L46.47,845.81 L45.79,846.33 L45.18,846.84 L44.64,847.36 L44.18,847.87 L43.78,848.38 L43.46,848.89 L43.22,849.39 L43.04,849.90 L42.93,850.40 L42.90,850.90 L43.03,851.79 L43.37,852.58 L43.90,853.35 L44.59,854.09 L45.45,854.81 L46.45,855.53 L47.59,856.23 L48.88,856.93 L50.29,857.62 L51.82,858.31 L53.46,858.98 L55.22,859.66 L57.08,860.33 L59.03,860.99 L61.07,861.65 L63.20,862.31 L65.40,862.97 L67.67,863.62 L69.99,864.27 L72.38,864.91 L74.81,865.56 L77.29,866.20 L79.80,866.83 L82.33,867.47 L84.89,868.11 L87.46,868.74 L90.04,869.37 L92.62,870.00 L95.19,870.62 L97.75,871.25 L100.30,871.87 L102.82,872.49 L105.30,873.11 L107.75,873.73 L110.16,874.35 L112.52,874.96 L114.83,875.58 L117.08,876.19 L119.26,876.80 L121.37,877.41 L123.41,878.02 L125.38,878.63 L127.26,879.24 L129.05,879.84 L130.75,880.45 L132.36,881.05 L133.87,881.65 L135.28,882.25 L136.59,882.86 L137.79,883.45 L138.88,884.05 L139.87,884.65 L140.74,885.25 L141.49,885.84 L142.14,886.44 L142.66,887.03 L143.07,887.63 L143.37,888.22 L143.54,888.81 L143.60,889.40" stroke="#000" stroke-width="3.8" fill="none" stroke-linecap="round" stroke-linejoin="round"/>
<rect x="38" y="713.8" width="95.5" height="15" fill="#fff" fill-opacity="0.7"/>
<g font-size="16.54" fill="#000" font-style="italic"><text x="40.20" y="724.80" textLength="9.86" lengthAdjust="spacingAndGlyphs">E</text></g>
<g font-size="11.58" fill="#000"><text x="50.06" y="728.00" textLength="7.47" lengthAdjust="spacingAndGlyphs">A</text></g>
<g font-size="16.54" fill="#000"><text x="62.49" y="724.80" textLength="13.07" lengthAdjust="spacingAndGlyphs">=</text><text x="80.52" y="724.80" textLength="9.93" lengthAdjust="spacingAndGlyphs">4</text><text x="90.44" y="724.80" textLength="4.96" lengthAdjust="spacingAndGlyphs">.</text><text x="95.40" y="724.80" textLength="9.93" lengthAdjust="spacingAndGlyphs">2</text><text x="110.29" y="724.80" textLength="9.60" lengthAdjust="spacingAndGlyphs">e</text><text x="119.88" y="724.80" textLength="10.67" lengthAdjust="spacingAndGlyphs">V</text></g>
<path d="M37,733.7 H136" stroke="#000" stroke-width="1.5"/>
<path d="M30.20,733.70L38.20,730.40L38.20,737.00Z" fill="#000"/>
<path d="M142.80,733.70L134.80,737.00L134.80,730.40Z" fill="#000"/>
<path d="M31.3,736.5 V766" stroke="#888" stroke-width="1.3"/>
<g font-size="16.54" fill="#000"><text x="19.60" y="826.50" textLength="9.93" lengthAdjust="spacingAndGlyphs">4</text><text x="29.53" y="826.50" textLength="4.96" lengthAdjust="spacingAndGlyphs">.</text><text x="34.48" y="826.50" textLength="9.93" lengthAdjust="spacingAndGlyphs">1</text><text x="49.37" y="826.50" textLength="9.60" lengthAdjust="spacingAndGlyphs">e</text><text x="58.97" y="826.50" textLength="10.67" lengthAdjust="spacingAndGlyphs">V</text></g>
<path d="M390.8,558.50 V713.50 H509" stroke="#000" stroke-width="1.6" fill="none"/>
<path d="M390.80,551.50L394.40,560.50L387.20,560.50Z" fill="#000"/>
<path d="M516.00,713.50L507.00,717.10L507.00,709.90Z" fill="#000"/>
<path d="M390.8,753.30 V908.30 H509" stroke="#000" stroke-width="1.6" fill="none"/>
<path d="M390.80,746.30L394.40,755.30L387.20,755.30Z" fill="#000"/>
<path d="M516.00,908.30L507.00,911.90L507.00,904.70Z" fill="#000"/>
<g font-size="16.54" fill="#000"><text x="399.60" y="559.20" textLength="9.86" lengthAdjust="spacingAndGlyphs">E</text><text x="409.46" y="559.20" textLength="9.89" lengthAdjust="spacingAndGlyphs">n</text><text x="419.34" y="559.20" textLength="9.60" lengthAdjust="spacingAndGlyphs">e</text><text x="428.94" y="559.20" textLength="6.41" lengthAdjust="spacingAndGlyphs">r</text><text x="435.36" y="559.20" textLength="9.90" lengthAdjust="spacingAndGlyphs">g</text><text x="444.98" y="559.20" textLength="9.23" lengthAdjust="spacingAndGlyphs">y</text></g>
<g font-size="16.54" fill="#000"><text x="399.50" y="758.00" textLength="9.86" lengthAdjust="spacingAndGlyphs">E</text><text x="409.36" y="758.00" textLength="9.89" lengthAdjust="spacingAndGlyphs">n</text><text x="419.24" y="758.00" textLength="9.60" lengthAdjust="spacingAndGlyphs">e</text><text x="428.84" y="758.00" textLength="6.41" lengthAdjust="spacingAndGlyphs">r</text><text x="435.26" y="758.00" textLength="9.90" lengthAdjust="spacingAndGlyphs">g</text><text x="444.88" y="758.00" textLength="9.23" lengthAdjust="spacingAndGlyphs">y</text></g>
<g font-size="16.54" fill="#000" font-style="italic"><text x="420.40" y="729.80" textLength="9.89" lengthAdjust="spacingAndGlyphs">h</text></g>
<g font-size="16.54" fill="#000"><text x="430.29" y="729.80" textLength="5.63" lengthAdjust="spacingAndGlyphs">-</text><text x="435.92" y="729.80" textLength="9.90" lengthAdjust="spacingAndGlyphs">p</text><text x="445.82" y="729.80" textLength="4.33" lengthAdjust="spacingAndGlyphs">l</text><text x="450.15" y="729.80" textLength="9.56" lengthAdjust="spacingAndGlyphs">a</text><text x="459.71" y="729.80" textLength="9.89" lengthAdjust="spacingAndGlyphs">n</text><text x="469.60" y="729.80" textLength="9.60" lengthAdjust="spacingAndGlyphs">e</text></g>
<g font-size="16.54" fill="#000" font-style="italic"><text x="416.30" y="923.60" textLength="9.03" lengthAdjust="spacingAndGlyphs">k</text></g>
<g font-size="16.54" fill="#000"><text x="425.33" y="923.60" textLength="5.63" lengthAdjust="spacingAndGlyphs">-</text><text x="430.96" y="923.60" textLength="9.90" lengthAdjust="spacingAndGlyphs">p</text><text x="440.87" y="923.60" textLength="4.33" lengthAdjust="spacingAndGlyphs">l</text><text x="445.20" y="923.60" textLength="9.56" lengthAdjust="spacingAndGlyphs">a</text><text x="454.76" y="923.60" textLength="9.89" lengthAdjust="spacingAndGlyphs">n</text><text x="464.65" y="923.60" textLength="9.60" lengthAdjust="spacingAndGlyphs">e</text></g>
<g font-size="16.54" fill="#000" font-style="italic"><text x="419.40" y="611.40" textLength="9.86" lengthAdjust="spacingAndGlyphs">E</text></g>
<g font-size="11.58" fill="#000"><text x="429.26" y="614.60" textLength="7.47" lengthAdjust="spacingAndGlyphs">A</text></g>
<g font-size="16.54" fill="#000"><text x="441.69" y="611.40" textLength="13.07" lengthAdjust="spacingAndGlyphs">=</text><text x="459.72" y="611.40" textLength="9.93" lengthAdjust="spacingAndGlyphs">3</text><text x="469.64" y="611.40" textLength="4.96" lengthAdjust="spacingAndGlyphs">.</text><text x="474.60" y="611.40" textLength="9.93" lengthAdjust="spacingAndGlyphs">7</text><text x="489.49" y="611.40" textLength="9.60" lengthAdjust="spacingAndGlyphs">e</text><text x="499.08" y="611.40" textLength="10.67" lengthAdjust="spacingAndGlyphs">V</text></g>
<g font-size="16.54" fill="#000"><text x="454.50" y="774.30" textLength="9.93" lengthAdjust="spacingAndGlyphs">4</text><text x="464.43" y="774.30" textLength="4.96" lengthAdjust="spacingAndGlyphs">.</text><text x="469.38" y="774.30" textLength="9.93" lengthAdjust="spacingAndGlyphs">0</text><text x="484.27" y="774.30" textLength="9.60" lengthAdjust="spacingAndGlyphs">e</text><text x="493.87" y="774.30" textLength="10.67" lengthAdjust="spacingAndGlyphs">V</text></g>
<path d="M407.30,622.09 L407.72,622.70 L408.13,623.55 L408.55,624.62 L408.97,625.91 L409.38,627.39 L409.80,629.07 L410.22,630.91 L410.63,632.91 L411.05,635.06 L411.47,637.32 L411.88,639.70 L412.30,642.17 L412.71,644.72 L413.13,647.33 L413.55,649.99 L413.96,652.67 L414.38,655.37 L414.80,658.06 L415.21,660.75 L415.63,663.40 L416.05,666.02 L416.46,668.58 L416.88,671.09 L417.30,673.52 L417.71,675.86 L418.13,678.12 L418.55,680.29 L418.96,682.35 L419.38,684.31 L419.80,686.15 L420.21,687.88 L420.63,689.49 L421.04,690.99 L421.46,692.36 L421.88,693.62 L422.29,694.76 L422.71,695.79 L423.13,696.70 L423.54,697.51 L423.96,698.21 L424.38,698.81 L424.79,699.31 L425.21,699.73 L425.63,700.07 L426.04,700.33 L426.46,700.52 L426.88,700.65 L427.29,700.74 L427.71,700.78 L428.12,700.80 L428.54,700.80 L428.96,700.74 L429.37,700.61 L429.79,700.41 L430.21,700.14 L430.62,699.80 L431.04,699.40 L431.46,698.93 L431.87,698.39 L432.29,697.78 L432.71,697.11 L433.12,696.38 L433.54,695.58 L433.96,694.73 L434.37,693.81 L434.79,692.84 L435.21,691.81 L435.62,690.72 L436.04,689.58 L436.46,688.40 L436.87,687.16 L437.29,685.88 L437.70,684.56 L438.12,683.19 L438.54,681.79 L438.95,680.35 L439.37,678.87 L439.79,677.37 L440.20,675.83 L440.62,674.27 L441.04,672.69 L441.45,671.08 L441.87,669.46 L442.29,667.83 L442.70,666.18 L443.12,664.52 L443.54,662.86 L443.95,661.19 L444.37,659.53 L444.79,657.86 L445.20,656.21 L445.62,654.56 L446.03,652.92 L446.45,651.30 L446.87,649.70 L447.28,648.11 L447.70,646.55 L448.12,645.02 L448.53,643.51 L448.95,642.04 L449.37,640.60 L449.78,639.19 L450.20,637.83 L450.62,636.50 L451.03,635.22 L451.45,633.99 L451.87,632.80 L452.28,631.67 L452.70,630.58 L453.12,629.56 L453.53,628.58 L453.95,627.67 L454.36,626.81 L454.78,626.01 L455.20,625.28 L455.61,624.61 L456.03,624.01 L456.45,623.47 L456.86,623.00 L457.28,622.59 L457.70,622.26 L458.11,621.99 L458.53,621.79 L458.95,621.66 L459.36,621.60 L459.78,621.61 L460.20,621.69 L460.61,621.83 L461.03,622.04 L461.45,622.32 L461.86,622.66 L462.28,623.06 L462.69,623.52 L463.11,624.05 L463.53,624.64 L463.94,625.30 L464.36,626.01 L464.78,626.78 L465.19,627.60 L465.61,628.49 L466.03,629.43 L466.44,630.42 L466.86,631.46 L467.28,632.55 L467.69,633.69 L468.11,634.87 L468.53,636.10 L468.94,637.37 L469.36,638.68 L469.78,640.03 L470.19,641.41 L470.61,642.83 L471.02,644.28 L471.44,645.75 L471.86,647.25 L472.27,648.78 L472.69,650.32 L473.11,651.88 L473.52,653.46 L473.94,655.05 L474.36,656.65 L474.77,658.26 L475.19,659.88 L475.61,661.49 L476.02,663.11 L476.44,664.72 L476.86,666.33 L477.27,667.92 L477.69,669.51 L478.11,671.08 L478.52,672.64 L478.94,674.18 L479.35,675.69 L479.77,677.18 L480.19,678.65 L480.60,680.08 L481.02,681.49 L481.44,682.86 L481.85,684.19 L482.27,685.49 L482.69,686.75 L483.10,687.96 L483.52,689.13 L483.94,690.25 L484.35,691.32 L484.77,692.35 L485.19,693.32 L485.60,694.24 L486.02,695.10 L486.44,695.91 L486.85,696.66 L487.27,697.35 L487.68,697.98 L488.10,698.54 L488.52,699.05 L488.93,699.49 L489.35,699.87 L489.77,700.19 L490.18,700.44 L490.60,700.62" stroke="#7a0cb0" stroke-width="2.8" fill="none" stroke-linecap="round"/>
<path d="M406.10,783.84 L406.52,784.74 L406.95,786.00 L407.37,787.58 L407.80,789.47 L408.22,791.66 L408.64,794.12 L409.07,796.84 L409.49,799.79 L409.92,802.95 L410.34,806.29 L410.76,809.80 L411.19,813.45 L411.61,817.22 L412.04,821.08 L412.46,825.01 L412.88,828.99 L413.31,832.99 L413.73,837.00 L414.16,840.99 L414.58,844.95 L415.00,848.86 L415.43,852.69 L415.85,856.44 L416.28,860.09 L416.70,863.62 L417.12,867.03 L417.55,870.30 L417.97,873.43 L418.40,876.40 L418.82,879.21 L419.24,881.85 L419.67,884.33 L420.09,886.63 L420.52,888.76 L420.94,890.72 L421.36,892.51 L421.79,894.12 L422.21,895.57 L422.64,896.86 L423.06,897.99 L423.48,898.97 L423.91,899.80 L424.33,900.50 L424.76,901.08 L425.18,901.54 L425.60,901.89 L426.03,902.15 L426.45,902.32 L426.88,902.43 L427.30,902.48 L427.72,902.50 L428.15,902.48 L428.57,902.35 L429.00,902.11 L429.42,901.76 L429.84,901.28 L430.27,900.70 L430.69,900.00 L431.12,899.19 L431.54,898.27 L431.96,897.24 L432.39,896.11 L432.81,894.87 L433.24,893.54 L433.66,892.10 L434.08,890.57 L434.51,888.94 L434.93,887.23 L435.36,885.43 L435.78,883.54 L436.20,881.58 L436.63,879.54 L437.05,877.43 L437.48,875.25 L437.90,873.01 L438.32,870.71 L438.75,868.35 L439.17,865.95 L439.60,863.50 L440.02,861.01 L440.44,858.49 L440.87,855.93 L441.29,853.35 L441.72,850.75 L442.14,848.13 L442.56,845.51 L442.99,842.87 L443.41,840.24 L443.84,837.61 L444.26,835.00 L444.68,832.40 L445.11,829.81 L445.53,827.26 L445.96,824.73 L446.38,822.24 L446.80,819.79 L447.23,817.38 L447.65,815.02 L448.08,812.72 L448.50,810.48 L448.92,808.29 L449.35,806.18 L449.77,804.14 L450.20,802.17 L450.62,800.28 L451.04,798.47 L451.47,796.75 L451.89,795.12 L452.32,793.58 L452.74,792.14 L453.16,790.80 L453.59,789.56 L454.01,788.42 L454.44,787.38 L454.86,786.46 L455.28,785.64 L455.71,784.94 L456.13,784.35 L456.56,783.87 L456.98,783.50 L457.40,783.26 L457.83,783.12 L458.25,783.11 L458.68,783.19 L459.10,783.36 L459.52,783.62 L459.95,783.98 L460.37,784.43 L460.80,784.96 L461.22,785.59 L461.64,786.31 L462.07,787.11 L462.49,788.00 L462.92,788.98 L463.34,790.04 L463.76,791.18 L464.19,792.40 L464.61,793.70 L465.04,795.07 L465.46,796.52 L465.88,798.04 L466.31,799.63 L466.73,801.29 L467.16,803.01 L467.58,804.80 L468.00,806.64 L468.43,808.54 L468.85,810.49 L469.28,812.49 L469.70,814.54 L470.12,816.63 L470.55,818.77 L470.97,820.94 L471.40,823.14 L471.82,825.38 L472.24,827.64 L472.67,829.93 L473.09,832.23 L473.52,834.56 L473.94,836.89 L474.36,839.23 L474.79,841.58 L475.21,843.94 L475.64,846.29 L476.06,848.63 L476.48,850.97 L476.91,853.29 L477.33,855.59 L477.76,857.88 L478.18,860.14 L478.60,862.38 L479.03,864.59 L479.45,866.76 L479.88,868.89 L480.30,870.99 L480.72,873.04 L481.15,875.04 L481.57,877.00 L482.00,878.90 L482.42,880.74 L482.84,882.53 L483.27,884.25 L483.69,885.91 L484.12,887.50 L484.54,889.03 L484.96,890.48 L485.39,891.86 L485.81,893.16 L486.24,894.38 L486.66,895.53 L487.08,896.59 L487.51,897.57 L487.93,898.46 L488.36,899.27 L488.78,899.99 L489.20,900.62 L489.63,901.16 L490.05,901.61 L490.48,901.97 L490.90,902.24" stroke="#c8467c" stroke-width="2.8" fill="none" stroke-dasharray="7.5,4.5"/>
<path d="M428.6,621.6 H459" stroke="#999" stroke-width="1.2"/>
<path d="M428.3,628 V694" stroke="#000" stroke-width="1.4"/>
<path d="M428.30,621.60L431.30,629.10L425.30,629.10Z" fill="#000"/>
<path d="M428.30,700.30L425.30,692.80L431.30,692.80Z" fill="#000"/>
<path d="M183.10,565.80L263.50,561.60" stroke="#c8467c" stroke-width="2.6" stroke-dasharray="7,4.5"/>
<path d="M263.50,561.60L352.30,565.00" stroke="#c8467c" stroke-width="2.6" stroke-dasharray="7,4.5"/>
<path d="M184.20,725.80L265.50,717.20" stroke="#c8467c" stroke-width="2.6" stroke-dasharray="7,4.5"/>
<path d="M265.50,717.20L353.00,723.00" stroke="#c8467c" stroke-width="2.6" stroke-dasharray="7,4.5"/>
<path d="M185.00,881.20L263.80,867.50" stroke="#c8467c" stroke-width="2.6" stroke-dasharray="7,4.5"/>
<path d="M263.80,867.50L350.00,878.00" stroke="#c8467c" stroke-width="2.6" stroke-dasharray="7,4.5"/>
<path d="M263.20,618.80L265.50,717.20" stroke="#222" stroke-width="1.1"/>
<path d="M261.50,774.50L263.80,867.50" stroke="#222" stroke-width="1.1"/>
<path d="M263.48,565.10L263.23,613.69" stroke="#111" stroke-width="6.4" stroke-linecap="round"/><path d="M263.48,565.10L263.23,613.69" stroke="#fff" stroke-width="4.0" stroke-linecap="round"/>
<path d="M265.25,720.81L261.87,769.24" stroke="#111" stroke-width="6.4" stroke-linecap="round"/><path d="M265.25,720.81L261.87,769.24" stroke="#fff" stroke-width="4.0" stroke-linecap="round"/>
<circle cx="263.50" cy="561.60" r="6.37" fill="#f7983e" stroke="#111" stroke-width="1.5"/>
<circle cx="263.20" cy="618.80" r="9.28" fill="#a3a3a3" stroke="#111" stroke-width="1.5"/>
<circle cx="265.50" cy="717.20" r="6.57" fill="#f7983e" stroke="#111" stroke-width="1.5"/>
<circle cx="261.50" cy="774.50" r="9.58" fill="#a3a3a3" stroke="#111" stroke-width="1.5"/>
<circle cx="263.80" cy="867.50" r="6.77" fill="#f7983e" stroke="#111" stroke-width="1.5"/>
<path d="M259.85,622.65L241.82,643.41" stroke="#111" stroke-width="6.4" stroke-linecap="round"/><path d="M259.85,622.65L241.82,643.41" stroke="#fff" stroke-width="4.0" stroke-linecap="round"/>
<path d="M242.78,707.19L262.19,715.74" stroke="#111" stroke-width="6.4" stroke-linecap="round"/><path d="M242.78,707.19L262.19,715.74" stroke="#fff" stroke-width="4.0" stroke-linecap="round"/>
<path d="M265.60,777.81L293.24,800.11" stroke="#111" stroke-width="6.4" stroke-linecap="round"/><path d="M265.60,777.81L293.24,800.11" stroke="#fff" stroke-width="4.0" stroke-linecap="round"/>
<path d="M289.06,861.33L267.42,866.62" stroke="#111" stroke-width="6.4" stroke-linecap="round"/><path d="M289.06,861.33L267.42,866.62" stroke="#fff" stroke-width="4.0" stroke-linecap="round"/>
<path d="M184.60,646.00L263.00,640.50" stroke="#7511b3" stroke-width="2.4" stroke-linecap="round"/>
<path d="M263.00,640.50L355.80,644.20" stroke="#7511b3" stroke-width="2.4" stroke-linecap="round"/>
<path d="M185.00,804.00L262.00,794.00" stroke="#7511b3" stroke-width="2.4" stroke-linecap="round"/>
<path d="M262.00,794.00L352.50,801.20" stroke="#7511b3" stroke-width="2.4" stroke-linecap="round"/>
<path d="M352.30,565.00L366.20,573.00" stroke="#c8467c" stroke-width="2.6" stroke-dasharray="7,4.5"/>
<path d="M186.60,574.20L183.10,565.80" stroke="#c8467c" stroke-width="2.6" stroke-dasharray="7,4.5"/>
<path d="M353.00,723.00L364.80,740.00" stroke="#c8467c" stroke-width="2.6" stroke-dasharray="7,4.5"/>
<path d="M188.20,744.20L184.20,725.80" stroke="#c8467c" stroke-width="2.6" stroke-dasharray="7,4.5"/>
<path d="M350.00,878.00L363.00,903.00" stroke="#c8467c" stroke-width="2.6" stroke-dasharray="7,4.5"/>
<path d="M189.50,907.00L185.00,881.20" stroke="#c8467c" stroke-width="2.6" stroke-dasharray="7,4.5"/>
<path d="M183.10,625.40L184.20,725.80" stroke="#222" stroke-width="1.1"/>
<path d="M184.50,785.00L185.00,881.20" stroke="#222" stroke-width="1.1"/>
<path d="M351.50,625.40L353.00,723.00" stroke="#222" stroke-width="1.1"/>
<path d="M350.50,782.50L350.00,878.00" stroke="#222" stroke-width="1.1"/>
<path d="M183.10,569.44L183.10,620.04" stroke="#111" stroke-width="6.4" stroke-linecap="round"/><path d="M183.10,569.44L183.10,620.04" stroke="#fff" stroke-width="4.0" stroke-linecap="round"/>
<path d="M352.25,568.64L351.57,620.04" stroke="#111" stroke-width="6.4" stroke-linecap="round"/><path d="M352.25,568.64L351.57,620.04" stroke="#fff" stroke-width="4.0" stroke-linecap="round"/>
<path d="M239.30,649.89L237.95,699.56" stroke="#111" stroke-width="6.4" stroke-linecap="round"/><path d="M239.30,649.89L237.95,699.56" stroke="#fff" stroke-width="4.0" stroke-linecap="round"/>
<path d="M184.22,729.55L184.47,779.48" stroke="#111" stroke-width="6.4" stroke-linecap="round"/><path d="M184.22,729.55L184.47,779.48" stroke="#fff" stroke-width="4.0" stroke-linecap="round"/>
<path d="M352.84,726.74L350.73,776.98" stroke="#111" stroke-width="6.4" stroke-linecap="round"/><path d="M352.84,726.74L350.73,776.98" stroke="#fff" stroke-width="4.0" stroke-linecap="round"/>
<path d="M296.09,806.30L294.67,854.40" stroke="#111" stroke-width="6.4" stroke-linecap="round"/><path d="M296.09,806.30L294.67,854.40" stroke="#fff" stroke-width="4.0" stroke-linecap="round"/>
<path d="M188.13,627.26L235.94,644.92" stroke="#111" stroke-width="6.4" stroke-linecap="round"/><path d="M188.13,627.26L235.94,644.92" stroke="#fff" stroke-width="4.0" stroke-linecap="round"/>
<path d="M232.73,706.97L187.69,724.44" stroke="#111" stroke-width="6.4" stroke-linecap="round"/><path d="M232.73,706.97L187.69,724.44" stroke="#fff" stroke-width="4.0" stroke-linecap="round"/>
<path d="M345.32,784.41L299.77,801.19" stroke="#111" stroke-width="6.4" stroke-linecap="round"/><path d="M345.32,784.41L299.77,801.19" stroke="#fff" stroke-width="4.0" stroke-linecap="round"/>
<path d="M299.83,861.73L346.33,876.81" stroke="#111" stroke-width="6.4" stroke-linecap="round"/><path d="M299.83,861.73L346.33,876.81" stroke="#fff" stroke-width="4.0" stroke-linecap="round"/>
<circle cx="183.10" cy="565.80" r="6.61" fill="#f7983e" stroke="#111" stroke-width="1.5"/>
<circle cx="352.30" cy="565.00" r="6.61" fill="#f7983e" stroke="#111" stroke-width="1.5"/>
<circle cx="183.10" cy="625.40" r="9.74" fill="#a3a3a3" stroke="#111" stroke-width="1.5"/>
<circle cx="351.50" cy="625.40" r="9.74" fill="#a3a3a3" stroke="#111" stroke-width="1.5"/>
<circle cx="239.40" cy="646.20" r="6.71" fill="#f7983e" stroke="#111" stroke-width="1.5"/>
<circle cx="237.80" cy="705.00" r="9.89" fill="#a3a3a3" stroke="#111" stroke-width="1.5"/>
<circle cx="184.20" cy="725.80" r="6.81" fill="#f7983e" stroke="#111" stroke-width="1.5"/>
<circle cx="353.00" cy="723.00" r="6.81" fill="#f7983e" stroke="#111" stroke-width="1.5"/>
<circle cx="184.50" cy="785.00" r="10.04" fill="#a3a3a3" stroke="#111" stroke-width="1.5"/>
<circle cx="350.50" cy="782.50" r="10.04" fill="#a3a3a3" stroke="#111" stroke-width="1.5"/>
<circle cx="296.20" cy="802.50" r="6.91" fill="#f7983e" stroke="#111" stroke-width="1.5"/>
<circle cx="294.50" cy="860.00" r="10.19" fill="#a3a3a3" stroke="#111" stroke-width="1.5"/>
<circle cx="185.00" cy="881.20" r="7.01" fill="#f7983e" stroke="#111" stroke-width="1.5"/>
<circle cx="350.00" cy="878.00" r="7.01" fill="#f7983e" stroke="#111" stroke-width="1.5"/>
<path d="M266.27,631.58L242.64,644.44" stroke="#111" stroke-width="6.4" stroke-linecap="round"/><path d="M266.27,631.58L242.64,644.44" stroke="#fff" stroke-width="4.0" stroke-linecap="round"/>
<path d="M242.07,708.37L270.76,731.00" stroke="#111" stroke-width="6.4" stroke-linecap="round"/><path d="M242.07,708.37L270.76,731.00" stroke="#fff" stroke-width="4.0" stroke-linecap="round"/>
<path d="M348.08,629.52L331.64,649.36" stroke="#111" stroke-width="6.4" stroke-linecap="round"/><path d="M348.08,629.52L331.64,649.36" stroke="#fff" stroke-width="4.0" stroke-linecap="round"/>
<path d="M334.39,714.63L349.58,721.46" stroke="#111" stroke-width="6.4" stroke-linecap="round"/><path d="M334.39,714.63L349.58,721.46" stroke="#fff" stroke-width="4.0" stroke-linecap="round"/>
<path d="M188.51,788.80L213.34,812.30" stroke="#111" stroke-width="6.4" stroke-linecap="round"/><path d="M188.51,788.80L213.34,812.30" stroke="#fff" stroke-width="4.0" stroke-linecap="round"/>
<path d="M209.81,875.10L188.74,880.28" stroke="#111" stroke-width="6.4" stroke-linecap="round"/><path d="M209.81,875.10L188.74,880.28" stroke="#fff" stroke-width="4.0" stroke-linecap="round"/>
<path d="M276.21,795.02L292.64,801.17" stroke="#111" stroke-width="6.4" stroke-linecap="round"/><path d="M276.21,795.02L292.64,801.17" stroke="#fff" stroke-width="4.0" stroke-linecap="round"/>
<path d="M291.36,864.64L274.74,889.20" stroke="#111" stroke-width="6.4" stroke-linecap="round"/><path d="M291.36,864.64L274.74,889.20" stroke="#fff" stroke-width="4.0" stroke-linecap="round"/>
<path d="M272.32,573.37L271.31,623.29" stroke="#111" stroke-width="6.4" stroke-linecap="round"/><path d="M272.32,573.37L271.31,623.29" stroke="#fff" stroke-width="4.0" stroke-linecap="round"/>
<path d="M329.20,656.12L329.20,706.61" stroke="#111" stroke-width="6.4" stroke-linecap="round"/><path d="M329.20,656.12L329.20,706.61" stroke="#fff" stroke-width="4.0" stroke-linecap="round"/>
<path d="M273.61,737.27L271.09,787.23" stroke="#111" stroke-width="6.4" stroke-linecap="round"/><path d="M273.61,737.27L271.09,787.23" stroke="#fff" stroke-width="4.0" stroke-linecap="round"/>
<path d="M216.15,818.93L215.57,867.84" stroke="#111" stroke-width="6.4" stroke-linecap="round"/><path d="M216.15,818.93L215.57,867.84" stroke="#fff" stroke-width="4.0" stroke-linecap="round"/>
<path d="M276.40,631.00L325.66,650.87" stroke="#111" stroke-width="6.4" stroke-linecap="round"/><path d="M276.40,631.00L325.66,650.87" stroke="#fff" stroke-width="4.0" stroke-linecap="round"/>
<path d="M323.88,714.33L277.42,732.02" stroke="#111" stroke-width="6.4" stroke-linecap="round"/><path d="M323.88,714.33L277.42,732.02" stroke="#fff" stroke-width="4.0" stroke-linecap="round"/>
<path d="M265.44,795.16L219.85,813.53" stroke="#111" stroke-width="6.4" stroke-linecap="round"/><path d="M265.44,795.16L219.85,813.53" stroke="#fff" stroke-width="4.0" stroke-linecap="round"/>
<path d="M221.06,875.53L268.71,891.25" stroke="#111" stroke-width="6.4" stroke-linecap="round"/><path d="M221.06,875.53L268.71,891.25" stroke="#fff" stroke-width="4.0" stroke-linecap="round"/>
<circle cx="272.40" cy="569.60" r="6.85" fill="#f7983e" stroke="#111" stroke-width="1.5"/>
<circle cx="271.20" cy="628.90" r="10.20" fill="#a3a3a3" stroke="#111" stroke-width="1.5"/>
<circle cx="329.20" cy="652.30" r="6.95" fill="#f7983e" stroke="#111" stroke-width="1.5"/>
<circle cx="329.20" cy="712.30" r="10.35" fill="#a3a3a3" stroke="#111" stroke-width="1.5"/>
<circle cx="273.80" cy="733.40" r="7.05" fill="#f7983e" stroke="#111" stroke-width="1.5"/>
<circle cx="270.80" cy="793.00" r="10.50" fill="#a3a3a3" stroke="#111" stroke-width="1.5"/>
<circle cx="216.20" cy="815.00" r="7.15" fill="#f7983e" stroke="#111" stroke-width="1.5"/>
<circle cx="215.50" cy="873.70" r="10.65" fill="#a3a3a3" stroke="#111" stroke-width="1.5"/>
<circle cx="272.50" cy="892.50" r="7.25" fill="#f7983e" stroke="#111" stroke-width="1.5"/>
<path d="M355.80,644.20L367.30,656.50" stroke="#7511b3" stroke-width="2.4" stroke-linecap="round"/>
<path d="M186.50,657.70L184.60,646.00" stroke="#7511b3" stroke-width="2.4" stroke-linecap="round"/>
<path d="M352.50,801.20L363.80,821.20" stroke="#7511b3" stroke-width="2.4" stroke-linecap="round"/>
<path d="M187.50,823.70L185.00,804.00" stroke="#7511b3" stroke-width="2.4" stroke-linecap="round"/>
<path d="M267.55,633.16L248.47,655.40" stroke="#111" stroke-width="6.4" stroke-linecap="round"/><path d="M267.55,633.16L248.47,655.40" stroke="#fff" stroke-width="4.0" stroke-linecap="round"/>
<path d="M252.49,724.57L270.22,731.92" stroke="#111" stroke-width="6.4" stroke-linecap="round"/><path d="M252.49,724.57L270.22,731.92" stroke="#fff" stroke-width="4.0" stroke-linecap="round"/>
<path d="M360.79,639.15L332.73,650.83" stroke="#111" stroke-width="6.4" stroke-linecap="round"/><path d="M360.79,639.15L332.73,650.83" stroke="#fff" stroke-width="4.0" stroke-linecap="round"/>
<path d="M333.69,715.80L361.64,737.54" stroke="#111" stroke-width="6.4" stroke-linecap="round"/><path d="M333.69,715.80L361.64,737.54" stroke="#fff" stroke-width="4.0" stroke-linecap="round"/>
<path d="M193.75,808.00L212.45,813.83" stroke="#111" stroke-width="6.4" stroke-linecap="round"/><path d="M193.75,808.00L212.45,813.83" stroke="#fff" stroke-width="4.0" stroke-linecap="round"/>
<path d="M211.90,878.32L192.04,903.75" stroke="#111" stroke-width="6.4" stroke-linecap="round"/><path d="M211.90,878.32L192.04,903.75" stroke="#fff" stroke-width="4.0" stroke-linecap="round"/>
<path d="M275.23,796.70L303.88,820.60" stroke="#111" stroke-width="6.4" stroke-linecap="round"/><path d="M275.23,796.70L303.88,820.60" stroke="#fff" stroke-width="4.0" stroke-linecap="round"/>
<path d="M300.24,886.33L276.39,891.63" stroke="#111" stroke-width="6.4" stroke-linecap="round"/><path d="M300.24,886.33L276.39,891.63" stroke="#fff" stroke-width="4.0" stroke-linecap="round"/>
<path d="M366.20,573.00L281.60,577.80" stroke="#c8467c" stroke-width="2.6" stroke-dasharray="7,4.5"/>
<path d="M281.60,577.80L186.60,574.20" stroke="#c8467c" stroke-width="2.6" stroke-dasharray="7,4.5"/>
<path d="M364.80,740.00L281.60,751.80" stroke="#c8467c" stroke-width="2.6" stroke-dasharray="7,4.5"/>
<path d="M281.60,751.80L188.20,744.20" stroke="#c8467c" stroke-width="2.6" stroke-dasharray="7,4.5"/>
<path d="M363.00,903.00L281.20,920.00" stroke="#c8467c" stroke-width="2.6" stroke-dasharray="7,4.5"/>
<path d="M281.20,920.00L189.50,907.00" stroke="#c8467c" stroke-width="2.6" stroke-dasharray="7,4.5"/>
<path d="M187.20,638.50L188.20,744.20" stroke="#222" stroke-width="1.1"/>
<path d="M188.00,806.20L189.50,907.00" stroke="#222" stroke-width="1.1"/>
<path d="M366.20,636.90L364.80,740.00" stroke="#222" stroke-width="1.1"/>
<path d="M364.50,802.50L363.00,903.00" stroke="#222" stroke-width="1.1"/>
<path d="M186.64,578.10L187.15,632.64" stroke="#111" stroke-width="6.4" stroke-linecap="round"/><path d="M186.64,578.10L187.15,632.64" stroke="#fff" stroke-width="4.0" stroke-linecap="round"/>
<path d="M366.20,576.90L366.20,631.04" stroke="#111" stroke-width="6.4" stroke-linecap="round"/><path d="M366.20,576.90L366.20,631.04" stroke="#fff" stroke-width="4.0" stroke-linecap="round"/>
<path d="M245.97,662.35L246.90,716.36" stroke="#111" stroke-width="6.4" stroke-linecap="round"/><path d="M245.97,662.35L246.90,716.36" stroke="#fff" stroke-width="4.0" stroke-linecap="round"/>
<path d="M188.19,748.21L188.02,800.17" stroke="#111" stroke-width="6.4" stroke-linecap="round"/><path d="M188.19,748.21L188.02,800.17" stroke="#fff" stroke-width="4.0" stroke-linecap="round"/>
<path d="M364.78,744.01L364.53,796.47" stroke="#111" stroke-width="6.4" stroke-linecap="round"/><path d="M364.78,744.01L364.53,796.47" stroke="#fff" stroke-width="4.0" stroke-linecap="round"/>
<path d="M306.95,827.26L306.28,878.89" stroke="#111" stroke-width="6.4" stroke-linecap="round"/><path d="M306.95,827.26L306.28,878.89" stroke="#fff" stroke-width="4.0" stroke-linecap="round"/>
<path d="M192.75,640.38L242.15,657.13" stroke="#111" stroke-width="6.4" stroke-linecap="round"/><path d="M192.75,640.38L242.15,657.13" stroke="#fff" stroke-width="4.0" stroke-linecap="round"/>
<path d="M241.43,724.37L191.96,742.80" stroke="#111" stroke-width="6.4" stroke-linecap="round"/><path d="M241.43,724.37L191.96,742.80" stroke="#fff" stroke-width="4.0" stroke-linecap="round"/>
<path d="M358.83,804.54L310.82,821.82" stroke="#111" stroke-width="6.4" stroke-linecap="round"/><path d="M358.83,804.54L310.82,821.82" stroke="#fff" stroke-width="4.0" stroke-linecap="round"/>
<path d="M312.02,886.85L359.07,901.76" stroke="#111" stroke-width="6.4" stroke-linecap="round"/><path d="M312.02,886.85L359.07,901.76" stroke="#fff" stroke-width="4.0" stroke-linecap="round"/>
<circle cx="186.60" cy="574.20" r="7.09" fill="#f7983e" stroke="#111" stroke-width="1.5"/>
<circle cx="366.20" cy="573.00" r="7.09" fill="#f7983e" stroke="#111" stroke-width="1.5"/>
<circle cx="187.20" cy="638.50" r="10.66" fill="#a3a3a3" stroke="#111" stroke-width="1.5"/>
<circle cx="366.20" cy="636.90" r="10.66" fill="#a3a3a3" stroke="#111" stroke-width="1.5"/>
<circle cx="245.90" cy="658.40" r="7.19" fill="#f7983e" stroke="#111" stroke-width="1.5"/>
<circle cx="247.00" cy="722.30" r="10.81" fill="#a3a3a3" stroke="#111" stroke-width="1.5"/>
<circle cx="188.20" cy="744.20" r="7.29" fill="#f7983e" stroke="#111" stroke-width="1.5"/>
<circle cx="364.80" cy="740.00" r="7.29" fill="#f7983e" stroke="#111" stroke-width="1.5"/>
<circle cx="188.00" cy="806.20" r="10.96" fill="#a3a3a3" stroke="#111" stroke-width="1.5"/>
<circle cx="364.50" cy="802.50" r="10.96" fill="#a3a3a3" stroke="#111" stroke-width="1.5"/>
<circle cx="307.00" cy="823.20" r="7.39" fill="#f7983e" stroke="#111" stroke-width="1.5"/>
<circle cx="306.20" cy="885.00" r="11.11" fill="#a3a3a3" stroke="#111" stroke-width="1.5"/>
<circle cx="189.50" cy="907.00" r="7.49" fill="#f7983e" stroke="#111" stroke-width="1.5"/>
<circle cx="363.00" cy="903.00" r="7.49" fill="#f7983e" stroke="#111" stroke-width="1.5"/>
<path d="M276.28,646.87L249.60,657.00" stroke="#111" stroke-width="6.4" stroke-linecap="round"/><path d="M276.28,646.87L249.60,657.00" stroke="#fff" stroke-width="4.0" stroke-linecap="round"/>
<path d="M251.52,726.16L278.45,749.11" stroke="#111" stroke-width="6.4" stroke-linecap="round"/><path d="M251.52,726.16L278.45,749.11" stroke="#fff" stroke-width="4.0" stroke-linecap="round"/>
<path d="M287.18,816.90L303.13,821.97" stroke="#111" stroke-width="6.4" stroke-linecap="round"/><path d="M287.18,816.90L303.13,821.97" stroke="#fff" stroke-width="4.0" stroke-linecap="round"/>
<path d="M302.65,889.97L283.67,916.54" stroke="#111" stroke-width="6.4" stroke-linecap="round"/><path d="M302.65,889.97L283.67,916.54" stroke="#fff" stroke-width="4.0" stroke-linecap="round"/>
<path d="M367.30,656.50L280.80,663.50" stroke="#7511b3" stroke-width="2.4" stroke-linecap="round"/>
<path d="M280.80,663.50L186.50,657.70" stroke="#7511b3" stroke-width="2.4" stroke-linecap="round"/>
<path d="M363.80,821.20L282.50,833.00" stroke="#7511b3" stroke-width="2.4" stroke-linecap="round"/>
<path d="M282.50,833.00L187.50,823.70" stroke="#7511b3" stroke-width="2.4" stroke-linecap="round"/>
<path d="M282.00,644.70L281.60,751.80" stroke="#222" stroke-width="1.1"/>
<path d="M281.20,815.00L281.20,920.00" stroke="#222" stroke-width="1.1"/>
<path d="M281.62,581.83L281.96,638.59" stroke="#111" stroke-width="6.4" stroke-linecap="round"/><path d="M281.62,581.83L281.96,638.59" stroke="#fff" stroke-width="4.0" stroke-linecap="round"/>
<path d="M281.57,755.94L281.24,808.72" stroke="#111" stroke-width="6.4" stroke-linecap="round"/><path d="M281.57,755.94L281.24,808.72" stroke="#fff" stroke-width="4.0" stroke-linecap="round"/>
<circle cx="281.60" cy="577.80" r="7.33" fill="#f7983e" stroke="#111" stroke-width="1.5"/>
<circle cx="282.00" cy="644.70" r="11.12" fill="#a3a3a3" stroke="#111" stroke-width="1.5"/>
<circle cx="281.60" cy="751.80" r="7.53" fill="#f7983e" stroke="#111" stroke-width="1.5"/>
<circle cx="281.20" cy="815.00" r="11.42" fill="#a3a3a3" stroke="#111" stroke-width="1.5"/>
<circle cx="281.20" cy="920.00" r="7.73" fill="#f7983e" stroke="#111" stroke-width="1.5"/>
</svg></body></html>
